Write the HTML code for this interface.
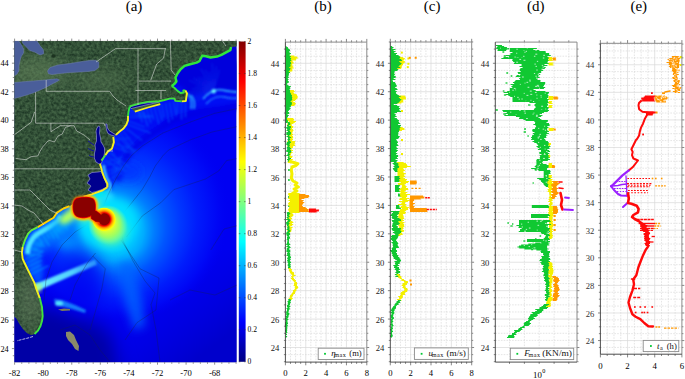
<!DOCTYPE html><html><head><meta charset="utf-8"><style>html,body{margin:0;padding:0;background:#fff;width:685px;height:379px;overflow:hidden}svg{display:block}</style></head><body>
<svg xmlns="http://www.w3.org/2000/svg" width="685" height="379" viewBox="0 0 685 379" font-family="'Liberation Serif', serif">
<rect width="685" height="379" fill="#fff"/>
<text x="134.0" y="10.8" font-size="15" text-anchor="middle" fill="#000">(a)</text>
<text x="323.0" y="10.8" font-size="15" text-anchor="middle" fill="#000">(b)</text>
<text x="432.1" y="10.8" font-size="15" text-anchor="middle" fill="#000">(c)</text>
<text x="535.7" y="10.8" font-size="15" text-anchor="middle" fill="#000">(d)</text>
<text x="638.8" y="10.8" font-size="15" text-anchor="middle" fill="#000">(e)</text>
<defs>
<clipPath id="mc"><rect x="14.3" y="41.0" width="222.29999999999998" height="321.3"/></clipPath>
<filter id="b1" x="-20%" y="-20%" width="140%" height="140%"><feGaussianBlur stdDeviation="1"/></filter>
<filter id="b2" x="-20%" y="-20%" width="140%" height="140%"><feGaussianBlur stdDeviation="2.5"/></filter>
<filter id="b4" x="-30%" y="-30%" width="160%" height="160%"><feGaussianBlur stdDeviation="5"/></filter>
<filter id="b8" x="-30%" y="-30%" width="160%" height="160%"><feGaussianBlur stdDeviation="9"/></filter>
<radialGradient id="glowBig" cx="103" cy="222" r="150" gradientUnits="userSpaceOnUse"><stop offset="0" stop-color="#40e8ff"/><stop offset="0.25" stop-color="#28b8ff"/><stop offset="0.5" stop-color="#1670ff"/><stop offset="0.8" stop-color="#0c3cf4" stop-opacity="0.6"/><stop offset="1" stop-color="#0a24ee" stop-opacity="0"/></radialGradient>
<radialGradient id="glowIn" cx="102" cy="220" r="48" gradientUnits="userSpaceOnUse"><stop offset="0" stop-color="#ffe000"/><stop offset="0.3" stop-color="#d8ff28"/><stop offset="0.55" stop-color="#70ff90"/><stop offset="0.8" stop-color="#30e0ff" stop-opacity="0.7"/><stop offset="1" stop-color="#20c0ff" stop-opacity="0"/></radialGradient>
<linearGradient id="jet" x1="0" y1="1" x2="0" y2="0"><stop offset="0" stop-color="#000080"/><stop offset="0.125" stop-color="#0000ff"/><stop offset="0.375" stop-color="#00ffff"/><stop offset="0.625" stop-color="#ffff00"/><stop offset="0.875" stop-color="#ff0000"/><stop offset="1" stop-color="#800000"/></linearGradient>
</defs>
<g clip-path="url(#mc)">
<rect x="14.3" y="41.0" width="222.29999999999998" height="321.3" fill="#0000f2"/>
<defs><linearGradient id="brg" x1="150" y1="260" x2="215" y2="345" gradientUnits="userSpaceOnUse"><stop offset="0" stop-color="#0000f2" stop-opacity="0"/><stop offset="1" stop-color="#0000cc"/></linearGradient></defs>
<rect x="120" y="250" width="120" height="120" fill="url(#brg)"/>
<defs><radialGradient id="bigg" cx="120" cy="212" r="110" fx="112" fy="238" gradientUnits="userSpaceOnUse"><stop offset="0" stop-color="#00d8ff"/><stop offset="0.15" stop-color="#00cdff"/><stop offset="0.27" stop-color="#00aaff"/><stop offset="0.36" stop-color="#007cff"/><stop offset="0.46" stop-color="#0056ff"/><stop offset="0.58" stop-color="#0038ff"/><stop offset="0.72" stop-color="#001cfc"/><stop offset="0.88" stop-color="#0008f6"/><stop offset="1" stop-color="#0000f2" stop-opacity="0"/></radialGradient></defs>
<rect x="14.3" y="41.0" width="222.29999999999998" height="321.3" fill="url(#bigg)"/>
<g filter="url(#b8)"><polygon points="0,305 45,306 70,314 95,322 112,335 122,380 0,380" fill="#0000a6"/></g>
<g filter="url(#b2)"><polygon points="240,60 240,102.5 219.6,106.5 200,109 186,112 170,117 158,125 147,132 140,137 125.5,150.4 119,163 114.4,178 110,188 100,200 100,160 120,110 170,90" fill="#0010f4"/></g>
<g filter="url(#b2)"><polyline points="243,105.5 222.6,109.5 203,112 189,115 173,120 161,128 150,135 143,140 128.5,153.4 122,166 117.4,181" fill="none" stroke="#0000e4" stroke-width="6"/></g>
<g filter="url(#b4)"><ellipse cx="128" cy="172" rx="14" ry="10" fill="#0028ff" opacity="0.6"/><ellipse cx="68" cy="243" rx="11" ry="7" fill="#0090ff"/></g>
<g filter="url(#b8)"><ellipse cx="82" cy="282" rx="22" ry="30" fill="#0008f0" opacity="0.75"/></g>
<g filter="url(#b4)"><polygon points="118,262 132,262 142,300 145,326 134,330 124,300" fill="#0064ff" opacity="0.8"/></g>
<g filter="url(#b2)"><polygon points="172,78 180,66 205,58 232,47 240,46 240,92 225,90 214,91 200,94 190,96 186,92" fill="#0000dc"/></g>
<g filter="url(#b4)"><polygon points="62,210 74,212 80,222 68,234 55,244 42,252 30,262 25,247 30,233 42,225" fill="#0070ff"/></g>
<g filter="url(#b2)"><polygon points="26,258 40,255 44,270 42,285 36,284 30,275 26,265" fill="#0050ff"/></g>
<g filter="url(#b1)" opacity="0.45"><path d="M128.87,110.12l16.16,3.35M128.29,113.67l24.03,2.86M128,117.26l20.9,-0M127.81,120.82l16.5,6.14M126.55,124.2l23.71,8.82M124.48,127.12l17.5,13.33M122.02,129.7l11.33,14.87M119.15,131.88l16,21M116.51,134.33l15.78,16.87M113.71,136.59l12.07,15.69M113.65,139.96l16.4,-1.86M113.5,143.49l23.13,7.12M112.44,146.93l19.98,6.15M110.46,149.7l10.02,14.47M107.66,151.9l20.8,14.4M105.61,154.86l18.09,12.52M103.48,157.77l15.06,11.08M101.37,160.68l24.3,10.31M100.03,163.99l22.1,-6.73M101.08,167.44l18.94,-5.76M101.92,170.93l16.13,-3.46M103.09,174.34l22.77,-8.18M104.31,177.72l18.63,-9.46M105.94,180.93l15.69,-7.97" stroke="#0070ff" stroke-width="1.4" fill="none" stroke-linecap="round"/></g>
<g filter="url(#b1)" opacity="0.6"><path d="M138.62,110.41l3.56,11.46M142.44,109.23l5.22,16.81M146.26,108.04l4.51,14.52M150.1,106.92l3.41,12.34M153.95,105.85l4.9,17.73M157.81,104.79l4.26,15.42M161.69,103.85l2.37,13.39M165.63,103.16l3.34,18.91M169.57,102.46l2.93,16.54M173.51,101.76l2.51,14.18M177.49,101.5l-0,12M181.49,101.5l-0,17.6M185.49,101.5l-0,15.2" stroke="#0068ff" stroke-width="1.4" fill="none" stroke-linecap="round"/></g>
<g filter="url(#b1)" opacity="0.5"><path d="M60.14,210.67l7.33,11.33M56.78,212.85l10.76,16.62M54.58,216.18l14.36,9.28M51.72,218.82l7.36,12.38M48.28,220.86l10.58,17.79M44.85,222.91l9.26,15.43M41.42,224.97l7.87,13.12M37.99,227.03l11.11,18.52M34.41,228.82l8.34,16.96M30.95,230.75l11.46,11.46M28.15,233.61l12.11,5.96M26.38,237.19l17.77,8.74M24.75,240.84l16.22,5.41M23.49,244.63l13.66,4.55M22.48,248.49l20.48,2.98M21.91,252.45l17.81,2.59M22.4,256.42l15.18,-1.93M23.34,260.26l19.79,-8.66M25.02,263.89l17,-8.26M26.77,267.49l14.57,-7.08M28.53,271.08l12.11,-5.96M30.29,274.67l17.76,-8.75" stroke="#00b0ff" stroke-width="1.4" fill="none" stroke-linecap="round"/></g>
<g filter="url(#b1)"><polyline points="61,216 57.5,221.5 49.5,227 41.5,231.5 36,235 33,238 30,243 28,248.5 27.5,254" fill="none" stroke="#48e0ff" stroke-width="5"/></g>
<g filter="url(#b4)"><ellipse cx="63" cy="224" rx="16" ry="6" transform="rotate(-38 63 224)" fill="#00a8ff"/></g>
<g filter="url(#b2)"><ellipse cx="68" cy="217" rx="10" ry="5" transform="rotate(-35 68 217)" fill="#b0ff60"/><ellipse cx="96" cy="224" rx="8" ry="4" fill="#e8f830"/></g>
<g filter="url(#b2)"><ellipse cx="103" cy="200" rx="11" ry="7" transform="rotate(-25 103 200)" fill="#38d4ff"/></g>
<g filter="url(#b1)"><polyline points="103.5,165 104.5,171 106.5,177.7 110,184 110.5,189 106,194" fill="none" stroke="#38b8ff" stroke-width="3"/></g>
<g filter="url(#b1)"><polygon points="54,299 62,300 75,305 86,310 85,313 72,309 60,306 55,303" fill="#1a90ff" opacity="0.85"/><ellipse cx="59" cy="303.5" rx="4" ry="2.5" fill="#50e0ff"/></g>
<g opacity="0.5" filter="url(#b1)"><path d="M213.7,91.2l-19.92,11.5M213.7,91.2l-18.67,7.17M213.7,91.2l-27.39,5.82M213.7,91.2l-24.97,1.31M213.7,91.2l-21.88,-2.3M213.7,91.2l-18.35,-4.92M213.7,91.2l-24.67,-10.98M213.7,91.2l-20.13,-13.07M213.7,91.2l-15.61,-14.05M213.7,91.2l-11.33,-13.99M213.7,91.2l-13,-22.52M213.7,91.2l-8.24,-21.47M213.7,91.2l-4.16,-19.56M213.7,91.2l-1.47,-27.96M213.7,91.2l2.61,-24.86M213.7,91.2l5.69,-21.25" stroke="#0a30f0" stroke-width="1.3" fill="none"/></g>
<g filter="url(#b1)"><path d="M203,99 Q212,88 222,90 Q232,92 238,92" stroke="#30b8ff" stroke-width="1.6" fill="none"/><path d="M206,104 Q214,95 224,97 Q232,99 238,98" stroke="#2080ff" stroke-width="1.4" fill="none"/><circle cx="213.7" cy="91.2" r="2.2" fill="#60f0ff"/><path d="M187,93 q6,6 4,16 M191,95 q5,6 3,14" stroke="#30d0ff" stroke-width="1.6" fill="none" opacity="0.8"/></g>
<defs><linearGradient id="beam" x1="35" y1="288" x2="98" y2="261" gradientUnits="userSpaceOnUse"><stop offset="0" stop-color="#70f0ff"/><stop offset="0.6" stop-color="#50d0ff"/><stop offset="1" stop-color="#40c0ff" stop-opacity="0.6"/></linearGradient></defs>
<g filter="url(#b1)"><polygon points="34,284.5 95,259.5 97,264.5 36,291.5" fill="url(#beam)"/></g>
<g filter="url(#b2)"><circle cx="37" cy="288" r="4" fill="#c0ff60"/></g>
<polyline points="96,228 104,205 108,194.9 115.8,179 123.7,165.8 131.7,155.3 142.3,146 162.9,133 190.4,122 214.4,113.4 240,108" fill="none" stroke="#14204a" stroke-width="0.6" opacity="0.55"/>
<polyline points="121,216 131.7,202.8 142.2,189.6 150,176.4 155.4,165.8 163.3,155.3 168.6,150 190,140 212,132 240,126" fill="none" stroke="#14204a" stroke-width="0.6" opacity="0.55"/>
<polyline points="126.4,237 142.2,216 160.7,202.8 173.9,189.6 189.7,184.3 205.5,179 218.7,171 226.6,160.6 240,158" fill="none" stroke="#14204a" stroke-width="0.6" opacity="0.55"/>
<polyline points="210.8,250 224,229 240,225" fill="none" stroke="#14204a" stroke-width="0.6" opacity="0.55"/>
<polyline points="121,229.5 123,241 133,261 145,281 155,293 151,304.6 156,330 160,362" fill="none" stroke="#14204a" stroke-width="0.6" opacity="0.55"/>
<polyline points="44,300 46,280 52,262 62,245 75,232 88,224" fill="none" stroke="#14204a" stroke-width="0.6" opacity="0.55"/>
<polyline points="95.6,253 88,262 83.7,269 75,285 70,300" fill="none" stroke="#14204a" stroke-width="0.6" opacity="0.55"/>
<polyline points="92.7,256 105.3,268.8 102,287.8 95.8,310 90,330" fill="none" stroke="#14204a" stroke-width="0.6" opacity="0.55"/>
<polyline points="121,240 140,268.8 159,278 156,310 137,322.6 125,340" fill="none" stroke="#14204a" stroke-width="0.6" opacity="0.55"/>
<polyline points="60,330 75,325 90,335 100,350 110,362" fill="none" stroke="#14204a" stroke-width="0.6" opacity="0.55"/>
<polyline points="170,300 190,290 215,295 237,285" fill="none" stroke="#14204a" stroke-width="0.6" opacity="0.55"/>
<g filter="url(#b4)"><ellipse cx="108" cy="222" rx="30" ry="25" fill="#00e0ff"/></g>
<g filter="url(#b4)"><ellipse cx="112" cy="232" rx="13" ry="11" transform="rotate(-20 112 232)" fill="#90ff70"/><ellipse cx="84" cy="207" rx="14" ry="12" fill="#c8ff50"/></g>
<g filter="url(#b2)"><ellipse cx="100" cy="194" rx="9" ry="4" transform="rotate(-20 100 194)" fill="#00f0f0"/></g>
<g filter="url(#b1)"><path d="M77,198.5 C84,197 90,197 93,199 C95,201 95.3,204 95.2,207 L95,211 C94,214 91,216 87,217 C83,217.8 79,217.6 76.5,216 C74,214 73.2,211 73.2,207 C73.2,203 74,200 77,198.5 Z" fill="#ffe800" stroke="#f4f000" stroke-width="5"/><path d="M91,211.5 L96,211 L100.5,214.5 L101,222 L96,221.5 L91.5,218.5 Z" fill="#ffe800" stroke="#ffe800" stroke-width="5"/></g>
<defs><radialGradient id="b2o" cx="108" cy="225" r="20" fx="104" fy="219.3" gradientUnits="userSpaceOnUse"><stop offset="0" stop-color="#ffff00"/><stop offset="0.45" stop-color="#e0ff30"/><stop offset="0.7" stop-color="#a0ff60" stop-opacity="0.8"/><stop offset="0.88" stop-color="#70ffa0" stop-opacity="0.4"/><stop offset="1" stop-color="#40ffc0" stop-opacity="0"/></radialGradient><radialGradient id="b2i" cx="104" cy="219.3" r="12" gradientUnits="userSpaceOnUse"><stop offset="0" stop-color="#800000"/><stop offset="0.46" stop-color="#8c0000"/><stop offset="0.55" stop-color="#f00000"/><stop offset="0.68" stop-color="#ff8000"/><stop offset="0.79" stop-color="#ffc800"/><stop offset="0.92" stop-color="#ffff00"/><stop offset="1" stop-color="#ffff00" stop-opacity="0"/></radialGradient></defs>
<circle cx="108" cy="225" r="20" fill="url(#b2o)"/>
<circle cx="104" cy="219.3" r="12" fill="url(#b2i)"/>
<polygon points="240,36 240,46 231,47 230.3,50.2 221.5,54.8 217,56.6 210.5,57.5 205.9,56.2 202.2,55.7 199.4,61.2 196.6,62.6 189.2,64.5 184.6,65.9 180.6,69.2 177.5,73.5 175.4,77.7 176.4,81.4 174.8,83.5 171.7,86.1 174.3,87.7 177.5,90.9 180.6,93 183.8,92.5 183.3,90.4 185.4,90.4 187,93.5 186.4,96.7 185.9,101 181.7,101.4 175.4,100.9 174.3,98.5 169.7,98.6 163.4,100.3 159.1,101.3 147.5,101.9 140.1,103.4 131.7,105.6 129.6,106.6 128.5,111.9 128,116.1 128,120.3 126.4,124.6 123.2,128.8 119,132 115.9,134.9 113.3,136.9 113.9,142.2 111.9,148.7 108,151.4 105.3,155.3 101.4,160.6 100,163.9 101.4,168.5 102,171.3 104.3,177.7 107.5,184 107.5,187.2 102.7,190.3 96.4,192.7 91.7,194.3 83.7,196.7 75.8,201.4 69.5,206.2 63.5,208.5 56.7,212.9 53.6,217.7 45.7,222.4 37.7,227.2 31.4,230.3 28.2,233.5 25.1,239.8 22.7,247 21.9,252.5 22.7,258.8 24.1,262 27.5,269 30.8,275.7 34.2,282.4 36.4,289.1 39.8,298.1 42,307.1 42.7,316 42,321 40.5,326 38,330.5 34.5,334 31,335 27,333 23,329 19.5,324 16.2,318 10,314 10,36" fill="#34563c"/>
<defs><filter id="tex" x="0" y="0" width="100%" height="100%" color-interpolation-filters="sRGB"><feTurbulence type="fractalNoise" baseFrequency="0.35" numOctaves="2" seed="7" result="n"/><feColorMatrix in="n" type="matrix" values="0.35 0 0 0 0.02  0.42 0 0 0 0.1  0.3 0 0 0 0.06  0 0 0 0 0.75" result="m"/><feComposite in="m" in2="SourceGraphic" operator="in"/></filter></defs>
<polygon points="240,36 240,46 231,47 230.3,50.2 221.5,54.8 217,56.6 210.5,57.5 205.9,56.2 202.2,55.7 199.4,61.2 196.6,62.6 189.2,64.5 184.6,65.9 180.6,69.2 177.5,73.5 175.4,77.7 176.4,81.4 174.8,83.5 171.7,86.1 174.3,87.7 177.5,90.9 180.6,93 183.8,92.5 183.3,90.4 185.4,90.4 187,93.5 186.4,96.7 185.9,101 181.7,101.4 175.4,100.9 174.3,98.5 169.7,98.6 163.4,100.3 159.1,101.3 147.5,101.9 140.1,103.4 131.7,105.6 129.6,106.6 128.5,111.9 128,116.1 128,120.3 126.4,124.6 123.2,128.8 119,132 115.9,134.9 113.3,136.9 113.9,142.2 111.9,148.7 108,151.4 105.3,155.3 101.4,160.6 100,163.9 101.4,168.5 102,171.3 104.3,177.7 107.5,184 107.5,187.2 102.7,190.3 96.4,192.7 91.7,194.3 83.7,196.7 75.8,201.4 69.5,206.2 63.5,208.5 56.7,212.9 53.6,217.7 45.7,222.4 37.7,227.2 31.4,230.3 28.2,233.5 25.1,239.8 22.7,247 21.9,252.5 22.7,258.8 24.1,262 27.5,269 30.8,275.7 34.2,282.4 36.4,289.1 39.8,298.1 42,307.1 42.7,316 42,321 40.5,326 38,330.5 34.5,334 31,335 27,333 23,329 19.5,324 16.2,318 10,314 10,36" fill="#000" filter="url(#tex)"/>
<defs><clipPath id="landclip"><polygon points="240,36 240,46 231,47 230.3,50.2 221.5,54.8 217,56.6 210.5,57.5 205.9,56.2 202.2,55.7 199.4,61.2 196.6,62.6 189.2,64.5 184.6,65.9 180.6,69.2 177.5,73.5 175.4,77.7 176.4,81.4 174.8,83.5 171.7,86.1 174.3,87.7 177.5,90.9 180.6,93 183.8,92.5 183.3,90.4 185.4,90.4 187,93.5 186.4,96.7 185.9,101 181.7,101.4 175.4,100.9 174.3,98.5 169.7,98.6 163.4,100.3 159.1,101.3 147.5,101.9 140.1,103.4 131.7,105.6 129.6,106.6 128.5,111.9 128,116.1 128,120.3 126.4,124.6 123.2,128.8 119,132 115.9,134.9 113.3,136.9 113.9,142.2 111.9,148.7 108,151.4 105.3,155.3 101.4,160.6 100,163.9 101.4,168.5 102,171.3 104.3,177.7 107.5,184 107.5,187.2 102.7,190.3 96.4,192.7 91.7,194.3 83.7,196.7 75.8,201.4 69.5,206.2 63.5,208.5 56.7,212.9 53.6,217.7 45.7,222.4 37.7,227.2 31.4,230.3 28.2,233.5 25.1,239.8 22.7,247 21.9,252.5 22.7,258.8 24.1,262 27.5,269 30.8,275.7 34.2,282.4 36.4,289.1 39.8,298.1 42,307.1 42.7,316 42,321 40.5,326 38,330.5 34.5,334 31,335 27,333 23,329 19.5,324 16.2,318 10,314 10,36"/></clipPath></defs>
<g clip-path="url(#landclip)"><g filter="url(#b8)" opacity="0.55"><ellipse cx="38" cy="72" rx="30" ry="16" fill="#6a8a60"/><ellipse cx="100" cy="80" rx="30" ry="10" fill="#5a7a55"/><ellipse cx="30" cy="300" rx="12" ry="30" fill="#6a8065"/></g></g>
<polygon points="131,108.6 145,105 159.5,101.9 160.3,104.1 148,107.5 134.8,111.6" fill="#3a5a3e"/>
<polygon points="10,36 18.8,36 18.8,41 21.5,45 23.5,49 23.5,53 21.1,56.8 20,60.8 19.1,64.8 18.8,71 17,74 14,76 10,76" fill="#4a5e9a" stroke="#7080b0" stroke-width="0.5"/>
<polygon points="21.5,36 37,36 37,41 40.1,45.8 43.3,49.7 43.7,53.7 40.1,54.9 34.6,52.1 29.8,50.5 25.9,46.5 22.5,43" fill="#4a5e9a" stroke="#7080b0" stroke-width="0.5"/>
<polygon points="47.5,71 50,67.5 58,65 70,63.5 82,61.5 90,60.4 96,60.2 99,62.5 98.5,67.5 95,70.5 88,71.5 80,72 70,72.5 60,73.5 52,74.5 48.5,73.8" fill="#4a5e9a" stroke="#7080b0" stroke-width="0.5"/>
<polygon points="10,83 20,82 33,81 45,80 52,79.3 57,78.8 59.5,80 57,81.5 52,84 45.7,87.5 39,90.5 33,93 26.7,95 20,97 14,98.5 10,98.5" fill="#4a5e9a" stroke="#7080b0" stroke-width="0.5"/>
<ellipse cx="53.6" cy="56" rx="2.2" ry="1.8" fill="#1c3320"/>
<polygon points="98.5,126 100,127 99.5,133 100.5,138 101,142 103,145 104.5,148 104.5,153 103.5,158 102,161.5 101.3,163.7 98.8,163.7 96,162 94.3,158 94.5,153 95.5,149 95,145 96.5,141 96.5,136 96,131 97,128" fill="#00008e" stroke="#a0a0e0" stroke-width="0.6"/>
<polygon points="105.7,123.8 107,124 107.5,128 109,130.5 112,132.5 115.8,134.8 114.5,136 111,135 108,133.5 106.5,130 106,126" fill="#00008e" stroke="#a0a0e0" stroke-width="0.6"/>
<polygon points="88,175 92,172.5 98,172 101,171.5 104,177.7 106.5,184 106.5,187 102,189.5 96,191.5 92,192.5 88,190 91,186 87,183 90,179" fill="#00008e" stroke="#a0a0e0" stroke-width="0.6"/>
<polygon points="130,106.8 140,104 150,102.6 159,101.6 159.4,102 145,105.2 131,108.6" fill="#00008e" stroke="#a0a0e0" stroke-width="0.6"/>
<polyline points="94,145 91,143 88,141" fill="none" stroke="#10109a" stroke-width="1"/>
<polyline points="94,151 91,150 88,148.5" fill="none" stroke="#10109a" stroke-width="1"/>
<polyline points="94,157 91,156.5 89,155" fill="none" stroke="#10109a" stroke-width="1"/>
<polygon points="66,332 70,331.5 74,335 76,340 79,346 78.5,351 75,349 72,344 68,340 66,336" fill="#8a8a6a"/>
<polygon points="58,309.5 64,308.6 70,309 70,310.5 62,311" fill="#7a7a5a"/>
<polyline points="231,47 230.3,50.2 221.5,54.8 217,56.6 210.5,57.5 205.9,56.2 202.2,55.7 199.4,61.2 196.6,62.6 189.2,64.5 184.6,65.9 180.6,69.2 177.5,73.5 175.4,77.7 176.4,81.4 174.8,83.5 171.7,86.1" fill="none" stroke="#30e43c" stroke-width="2.5" stroke-linejoin="round"/>
<polyline points="171.7,86.1 174.3,87.7 177.5,90.9 180.6,93 183.8,92.5 183.3,90.4 185.4,90.4" fill="none" stroke="#34e040" stroke-width="1.9" stroke-linejoin="round"/>
<polyline points="185.4,90.4 187,93.5 186.4,96.7 185.9,101 181.7,101.4" fill="none" stroke="#f0f020" stroke-width="1.9" stroke-linejoin="round"/>
<polyline points="181.7,101.4 175.4,100.9 174.3,98.5 169.7,98.6 163.4,100.3 159.1,101.3 147.5,101.9 140.1,103.4 131.7,105.6 129.6,106.6" fill="none" stroke="#40e040" stroke-width="1.9" stroke-linejoin="round"/>
<polyline points="129.6,106.6 128.5,111.9 128,116.1" fill="none" stroke="#30e040" stroke-width="1.9" stroke-linejoin="round"/>
<polyline points="128,116.1 128,120.3 126.4,124.6 123.2,128.8 119,132 115.9,134.9" fill="none" stroke="#f4f020" stroke-width="1.9" stroke-linejoin="round"/>
<polyline points="113.3,136.9 113.9,142.2 111.9,148.7 108,151.4 105.3,155.3" fill="none" stroke="#f4f020" stroke-width="1.9" stroke-linejoin="round"/>
<polyline points="105.3,155.3 101.4,160.6" fill="none" stroke="#50e040" stroke-width="1.9" stroke-linejoin="round"/>
<polyline points="100,163.9 101.4,168.5 102,171.3 104.3,177.7 107.5,184 107.5,187.2" fill="none" stroke="#f4f020" stroke-width="1.9" stroke-linejoin="round"/>
<polyline points="107.5,187.2 102.7,190.3 96.4,192.7 91.7,194.3 83.7,196.7" fill="none" stroke="#f8e820" stroke-width="1.9" stroke-linejoin="round"/>
<polyline points="69.5,206.2 63.5,208.5 56.7,212.9 53.6,217.7 45.7,222.4 37.7,227.2" fill="none" stroke="#ffd000" stroke-width="1.9" stroke-linejoin="round"/>
<polyline points="37.7,227.2 31.4,230.3 28.2,233.5 25.1,239.8 22.7,247" fill="none" stroke="#60e840" stroke-width="1.9" stroke-linejoin="round"/>
<polyline points="22.7,247 21.9,252.5 22.7,258.8 24.1,262 27.5,269 30.8,275.7 34.2,282.4 36.4,289.1 39.8,298.1" fill="none" stroke="#f0f020" stroke-width="1.9" stroke-linejoin="round"/>
<polyline points="39.8,298.1 42,307.1 42.7,316 42,321 40.5,326 38,330.5 34.5,334" fill="none" stroke="#40e040" stroke-width="1.9" stroke-linejoin="round"/>
<polyline points="134.8,111.6 148,107.5 160.3,104.1" fill="none" stroke="#f4f020" stroke-width="1.8"/>
<polyline points="33,336.5 28,338 22,339.5 17,340.8" fill="none" stroke="#c8c8e8" stroke-width="0.9" stroke-dasharray="3,1"/>
<g filter="url(#b1)"><path d="M77,198.5 C84,197 90,197 93,199 C95,201 95.3,204 95.2,207 L95,211 C94,214 91,216 87,217 C83,217.8 79,217.6 76.5,216 C74,214 73.2,211 73.2,207 C73.2,203 74,200 77,198.5 Z" fill="#ff8000" stroke="#ff8c00" stroke-width="3.4"/><path d="M91,211.5 L96,211 L100.5,214.5 L101,222 L96,221.5 L91.5,218.5 Z" fill="#ff6000" stroke="#ff7000" stroke-width="3"/></g>
<path d="M77,198.5 C84,197 90,197 93,199 C95,201 95.3,204 95.2,207 L95,211 C94,214 91,216 87,217 C83,217.8 79,217.6 76.5,216 C74,214 73.2,211 73.2,207 C73.2,203 74,200 77,198.5 Z" fill="#e00000" stroke="#f00000" stroke-width="1.4"/><path d="M91,211.5 L96,211 L100.5,214.5 L101,222 L96,221.5 L91.5,218.5 Z" fill="#d00000" stroke="#e00000" stroke-width="1.2"/>
<path d="M77,198.5 C84,197 90,197 93,199 C95,201 95.3,204 95.2,207 L95,211 C94,214 91,216 87,217 C83,217.8 79,217.6 76.5,216 C74,214 73.2,211 73.2,207 C73.2,203 74,200 77,198.5 Z" fill="#8a0000"/><path d="M91,211.5 L96,211 L100.5,214.5 L101,222 L96,221.5 L91.5,218.5 Z" fill="#8e0000"/><circle cx="104" cy="219.3" r="5.6" fill="#8c0000"/>
<polyline points="35.6,92 35.6,123.2 104,123.2" fill="none" stroke="#d8dcd8" stroke-width="0.7" opacity="0.85"/>
<polyline points="46.2,80 46.2,91.3 109.7,91.3 113,96 117,100 126,106" fill="none" stroke="#d8dcd8" stroke-width="0.7" opacity="0.85"/>
<polyline points="96,62 115.6,48.6 166,48.6" fill="none" stroke="#d8dcd8" stroke-width="0.7" opacity="0.85"/>
<polyline points="138,48.6 138,105" fill="none" stroke="#d8dcd8" stroke-width="0.7" opacity="0.85"/>
<polyline points="138.8,81.1 171.2,81.1" fill="none" stroke="#d8dcd8" stroke-width="0.7" opacity="0.85"/>
<polyline points="135.4,90.5 166,90.5" fill="none" stroke="#d8dcd8" stroke-width="0.7" opacity="0.85"/>
<polyline points="161,90.5 161,99" fill="none" stroke="#d8dcd8" stroke-width="0.7" opacity="0.85"/>
<polyline points="165.3,48.7 163.6,58.1 156.7,64 150.7,80.3" fill="none" stroke="#d8dcd8" stroke-width="0.7" opacity="0.85"/>
<polyline points="170.4,41 171.2,70 175,75" fill="none" stroke="#d8dcd8" stroke-width="0.7" opacity="0.85"/>
<polyline points="222.5,41 226,46" fill="none" stroke="#d8dcd8" stroke-width="0.7" opacity="0.85"/>
<polyline points="14,168.8 100,168.8" fill="none" stroke="#d8dcd8" stroke-width="0.7" opacity="0.85"/>
<polyline points="14,190 30,190 50,210 58,214" fill="none" stroke="#d8dcd8" stroke-width="0.7" opacity="0.85"/>
<polyline points="14,250 22,252" fill="none" stroke="#d8dcd8" stroke-width="0.7" opacity="0.85"/>
<polyline points="34.6,112 31.2,122.3 24.3,127.4 17.4,132.6 14,135" fill="none" stroke="#d8dcd8" stroke-width="0.7" opacity="0.85"/>
<polyline points="15.7,158.3 20,159 26,159.7 31.2,156.6 37.8,156 39.6,152 42.6,147 47.9,141 49.7,140.5 54.4,142 58,136 62.2,134 65.5,127.4 70.6,125.7" fill="none" stroke="#d8dcd8" stroke-width="0.7" opacity="0.85"/>
<polyline points="50.9,123.2 50.9,131.7 60.3,125.7 65.5,125.7 74,125.7 76.6,130.9 84.3,135.2 90,140" fill="none" stroke="#d8dcd8" stroke-width="0.7" opacity="0.85"/>
<polyline points="104,123.2 105,126" fill="none" stroke="#d8dcd8" stroke-width="0.7" opacity="0.85"/>
<polyline points="107,151 113,151" fill="none" stroke="#d8dcd8" stroke-width="0.7" opacity="0.85"/>
<polyline points="14,205 22,206 28,210 34,213 40,220 44,225" fill="none" stroke="#d8dcd8" stroke-width="0.7" opacity="0.85"/>
</g>
<rect x="14.3" y="41.0" width="222.29999999999998" height="321.3" fill="none" stroke="#777" stroke-width="0.3" opacity="0.6"/>
<path d="M14.6,41.0v-2.4M14.6,362.3v2.4M21.74,41.0v-1.5M21.74,362.3v1.5M28.89,41.0v-1.5M28.89,362.3v1.5M36.03,41.0v-1.5M36.03,362.3v1.5M43.18,41.0v-2.4M43.18,362.3v2.4M50.32,41.0v-1.5M50.32,362.3v1.5M57.47,41.0v-1.5M57.47,362.3v1.5M64.61,41.0v-1.5M64.61,362.3v1.5M71.76,41.0v-2.4M71.76,362.3v2.4M78.9,41.0v-1.5M78.9,362.3v1.5M86.05,41.0v-1.5M86.05,362.3v1.5M93.19,41.0v-1.5M93.19,362.3v1.5M100.34,41.0v-2.4M100.34,362.3v2.4M107.48,41.0v-1.5M107.48,362.3v1.5M114.63,41.0v-1.5M114.63,362.3v1.5M121.77,41.0v-1.5M121.77,362.3v1.5M128.92,41.0v-2.4M128.92,362.3v2.4M136.06,41.0v-1.5M136.06,362.3v1.5M143.21,41.0v-1.5M143.21,362.3v1.5M150.35,41.0v-1.5M150.35,362.3v1.5M157.5,41.0v-2.4M157.5,362.3v2.4M164.64,41.0v-1.5M164.64,362.3v1.5M171.79,41.0v-1.5M171.79,362.3v1.5M178.93,41.0v-1.5M178.93,362.3v1.5M186.08,41.0v-2.4M186.08,362.3v2.4M193.22,41.0v-1.5M193.22,362.3v1.5M200.37,41.0v-1.5M200.37,362.3v1.5M207.51,41.0v-1.5M207.51,362.3v1.5M214.66,41.0v-2.4M214.66,362.3v2.4M221.8,41.0v-1.5M221.8,362.3v1.5M228.95,41.0v-1.5M228.95,362.3v1.5M236.09,41.0v-1.5M236.09,362.3v1.5M14.3,355.73h-1.5M14.3,348.6h-2.4M14.3,341.46h-1.5M14.3,334.33h-1.5M14.3,327.19h-1.5M14.3,320.06h-2.4M14.3,312.93h-1.5M14.3,305.79h-1.5M14.3,298.65h-1.5M14.3,291.52h-2.4M14.3,284.38h-1.5M14.3,277.25h-1.5M14.3,270.12h-1.5M14.3,262.98h-2.4M14.3,255.84h-1.5M14.3,248.71h-1.5M14.3,241.57h-1.5M14.3,234.44h-2.4M14.3,227.31h-1.5M14.3,220.17h-1.5M14.3,213.04h-1.5M14.3,205.9h-2.4M14.3,198.76h-1.5M14.3,191.63h-1.5M14.3,184.5h-1.5M14.3,177.36h-2.4M14.3,170.22h-1.5M14.3,163.09h-1.5M14.3,155.95h-1.5M14.3,148.82h-2.4M14.3,141.69h-1.5M14.3,134.55h-1.5M14.3,127.42h-1.5M14.3,120.28h-2.4M14.3,113.15h-1.5M14.3,106.01h-1.5M14.3,98.88h-1.5M14.3,91.74h-2.4M14.3,84.61h-1.5M14.3,77.47h-1.5M14.3,70.34h-1.5M14.3,63.2h-2.4M14.3,56.07h-1.5M14.3,48.93h-1.5M14.3,41.8h-1.5" stroke="#444" stroke-width="0.6" fill="none"/>
<text x="8.700000000000001" y="351.5" font-size="8.3" text-anchor="end" fill="#000">24</text>
<text x="8.700000000000001" y="322.96" font-size="8.3" text-anchor="end" fill="#000">26</text>
<text x="8.700000000000001" y="294.42" font-size="8.3" text-anchor="end" fill="#000">28</text>
<text x="8.700000000000001" y="265.88" font-size="8.3" text-anchor="end" fill="#000">30</text>
<text x="8.700000000000001" y="237.34" font-size="8.3" text-anchor="end" fill="#000">32</text>
<text x="8.700000000000001" y="208.8" font-size="8.3" text-anchor="end" fill="#000">34</text>
<text x="8.700000000000001" y="180.26" font-size="8.3" text-anchor="end" fill="#000">36</text>
<text x="8.700000000000001" y="151.72" font-size="8.3" text-anchor="end" fill="#000">38</text>
<text x="8.700000000000001" y="123.18" font-size="8.3" text-anchor="end" fill="#000">40</text>
<text x="8.700000000000001" y="94.64" font-size="8.3" text-anchor="end" fill="#000">42</text>
<text x="8.700000000000001" y="66.1" font-size="8.3" text-anchor="end" fill="#000">44</text>
<text x="14.6" y="376.4" font-size="8.6" text-anchor="middle" fill="#000">-82</text>
<text x="43.18" y="376.4" font-size="8.6" text-anchor="middle" fill="#000">-80</text>
<text x="71.76" y="376.4" font-size="8.6" text-anchor="middle" fill="#000">-78</text>
<text x="100.34" y="376.4" font-size="8.6" text-anchor="middle" fill="#000">-76</text>
<text x="128.92" y="376.4" font-size="8.6" text-anchor="middle" fill="#000">-74</text>
<text x="157.5" y="376.4" font-size="8.6" text-anchor="middle" fill="#000">-72</text>
<text x="186.08" y="376.4" font-size="8.6" text-anchor="middle" fill="#000">-70</text>
<text x="214.66" y="376.4" font-size="8.6" text-anchor="middle" fill="#000">-68</text>
<rect x="238.8" y="41.5" width="6.8" height="320.3" fill="url(#jet)"/>
<path d="M238.8,41.5h1.6M245.6,41.5h-1.6M238.8,73.53h1.6M245.6,73.53h-1.6M238.8,105.56h1.6M245.6,105.56h-1.6M238.8,137.59h1.6M245.6,137.59h-1.6M238.8,169.62h1.6M245.6,169.62h-1.6M238.8,201.65h1.6M245.6,201.65h-1.6M238.8,233.68h1.6M245.6,233.68h-1.6M238.8,265.71h1.6M245.6,265.71h-1.6M238.8,297.74h1.6M245.6,297.74h-1.6M238.8,329.77h1.6M245.6,329.77h-1.6M238.8,361.8h1.6M245.6,361.8h-1.6" stroke="#333" stroke-width="0.5"/>
<text x="247.5" y="44.1" font-size="7.6" fill="#000">2</text>
<text x="247.5" y="76.13" font-size="7.6" fill="#000">1.8</text>
<text x="247.5" y="108.16" font-size="7.6" fill="#000">1.6</text>
<text x="247.5" y="140.19" font-size="7.6" fill="#000">1.4</text>
<text x="247.5" y="172.22" font-size="7.6" fill="#000">1.2</text>
<text x="247.5" y="204.25" font-size="7.6" fill="#000">1</text>
<text x="247.5" y="236.28" font-size="7.6" fill="#000">0.8</text>
<text x="247.5" y="268.31" font-size="7.6" fill="#000">0.6</text>
<text x="247.5" y="300.34" font-size="7.6" fill="#000">0.4</text>
<text x="247.5" y="332.37" font-size="7.6" fill="#000">0.2</text>
<text x="247.5" y="364.4" font-size="7.6" fill="#000">0</text>
<path d="M290.49,42.1V362.1M295.57,42.1V362.1M300.66,42.1V362.1M310.84,42.1V362.1M315.93,42.1V362.1M321.01,42.1V362.1M331.19,42.1V362.1M336.27,42.1V362.1M341.36,42.1V362.1M351.54,42.1V362.1M356.62,42.1V362.1M361.71,42.1V362.1M285.4,354.61H366.8M285.4,340.4H366.8M285.4,333.29H366.8M285.4,326.19H366.8M285.4,311.98H366.8M285.4,304.87H366.8M285.4,297.76H366.8M285.4,283.56H366.8M285.4,276.45H366.8M285.4,269.35H366.8M285.4,255.13H366.8M285.4,248.03H366.8M285.4,240.93H366.8M285.4,226.72H366.8M285.4,219.61H366.8M285.4,212.5H366.8M285.4,198.3H366.8M285.4,191.19H366.8M285.4,184.09H366.8M285.4,169.88H366.8M285.4,162.77H366.8M285.4,155.67H366.8M285.4,141.45H366.8M285.4,134.35H366.8M285.4,127.25H366.8M285.4,113.03H366.8M285.4,105.93H366.8M285.4,98.83H366.8M285.4,84.61H366.8M285.4,77.51H366.8M285.4,70.41H366.8M285.4,56.19H366.8M285.4,49.09H366.8" stroke="#d4d4d4" stroke-width="0.6" stroke-dasharray="1.6,1.2" fill="none"/>
<path d="M305.75,42.1V362.1M326.1,42.1V362.1M346.45,42.1V362.1M285.4,347.5H366.8M285.4,319.08H366.8M285.4,290.66H366.8M285.4,262.24H366.8M285.4,233.82H366.8M285.4,205.4H366.8M285.4,176.98H366.8M285.4,148.56H366.8M285.4,120.14H366.8M285.4,91.72H366.8M285.4,63.3H366.8" stroke="#d8d8d8" stroke-width="0.7" fill="none"/>
<polygon points="294.27,55.5 294.27,56.5 297.04,56.5 297.04,57.5 298.23,57.5 298.23,58.5 296.36,58.5 296.36,59.5 295.99,59.5 295.99,60.5 292.4,60.5 292.4,61.5 293.2,61.5 293.2,62.5 293.88,62.5 293.88,63.5 292.52,63.5 292.52,64.5 292.06,64.5 292.06,65.5 293.34,65.5 293.34,66.5 292.62,66.5 292.62,67.5 293.77,67.5 293.77,68.5 292.17,68.5 292.17,69.5 292.39,69.5 292.39,70.5 292.28,70.5 292.28,71.5 290.21,71.5 290.21,72.5 285.5,72.5 285.5,71.5 285.5,71.5 285.5,70.5 285.5,70.5 285.5,69.5 285.5,69.5 285.5,68.5 285.5,68.5 285.5,67.5 285.5,67.5 285.5,66.5 285.5,66.5 285.5,65.5 285.5,65.5 285.5,64.5 285.5,64.5 285.5,63.5 285.5,63.5 285.5,62.5 285.5,62.5 285.5,61.5 285.5,61.5 285.5,60.5 285.5,60.5 285.5,59.5 285.5,59.5 285.5,58.5 285.5,58.5 285.5,57.5 285.5,57.5 285.5,56.5 285.5,56.5 285.5,55.5" fill="#f4f000"/>
<polygon points="293.91,90 293.91,91 294.65,91 294.65,92 293.61,92 293.61,93 294.42,93 294.42,94 296.67,94 296.67,95 297.14,95 297.14,96 297.67,96 297.67,97 297.62,97 297.62,98 297.21,98 297.21,99 296.21,99 296.21,100 295.16,100 295.16,101 293.32,101 293.32,102 294.86,102 294.86,103 295.79,103 295.79,104 295.2,104 295.2,105 294.49,105 294.49,106 285.5,106 285.5,105 285.5,105 285.5,104 285.5,104 285.5,103 285.5,103 285.5,102 285.5,102 285.5,101 285.5,101 285.5,100 285.5,100 285.5,99 285.5,99 285.5,98 285.5,98 285.5,97 285.5,97 285.5,96 285.5,96 285.5,95 285.5,95 285.5,94 285.5,94 285.5,93 285.5,93 285.5,92 285.5,92 285.5,91 285.5,91 285.5,90" fill="#f4f000"/>
<polygon points="286.53,46 286.53,47 287.91,47 287.91,48 288.43,48 288.43,49 289.69,49 289.69,50 290.06,50 290.06,51 289.38,51 289.38,52 289.62,52 289.62,53 290.98,53 290.98,54 289.82,54 289.82,55 289.65,55 289.65,56 290.89,56 290.89,57 290.2,57 290.2,58 291.11,58 291.11,59 290.71,59 290.71,60 291.25,60 291.25,61 290.2,61 290.2,62 290.91,62 290.91,63 291.16,63 291.16,64 290.38,64 290.38,65 290.6,65 290.6,66 290.31,66 290.31,67 289.22,67 289.22,68 290.46,68 290.46,69 290.16,69 290.16,70 289.64,70 289.64,71 288.82,71 288.82,72 289.99,72 289.99,73 288.95,73 288.95,74 288.89,74 288.89,75 288.68,75 288.68,76 288.39,76 288.39,77 288.76,77 288.76,78 287.81,78 287.81,79 288.54,79 288.54,80 287.9,80 287.9,81 288.78,81 288.78,82 288.68,82 288.68,83 287.28,83 287.28,84 287.34,84 287.34,85 288.49,85 288.49,86 290.84,86 290.84,87 289.89,87 289.89,88 290.23,88 290.23,89 289.64,89 289.64,90 290.01,90 290.01,91 290.04,91 290.04,92 290.23,92 290.23,93 290.9,93 290.9,94 291.15,94 291.15,95 291.98,95 291.98,96 291.83,96 291.83,97 292.21,97 292.21,98 292.02,98 292.02,99 292.2,99 292.2,100 291.56,100 291.56,101 290.58,101 290.58,102 291.77,102 291.77,103 291.9,103 291.9,104 291.73,104 291.73,105 290.87,105 290.87,106 290.88,106 290.88,107 289.73,107 289.73,108 290.6,108 290.6,109 289.76,109 289.76,110 288.86,110 288.86,111 288.09,111 288.09,112 289.14,112 289.14,113 289.3,113 289.3,114 287.59,114 287.59,115 288.79,115 288.79,116 288.01,116 288.01,117 287.45,117 287.45,118 287.63,118 287.63,119 288.73,119 288.73,120 289.17,120 289.17,121 287.93,121 287.93,122 289.21,122 289.21,123 285.5,123 285.5,122 285.5,122 285.5,121 285.5,121 285.5,120 285.5,120 285.5,119 285.5,119 285.5,118 285.5,118 285.5,117 285.5,117 285.5,116 285.5,116 285.5,115 285.5,115 285.5,114 285.5,114 285.5,113 285.5,113 285.5,112 285.5,112 285.5,111 285.5,111 285.5,110 285.5,110 285.5,109 285.5,109 285.5,108 285.5,108 285.5,107 285.5,107 285.5,106 285.5,106 285.5,105 285.5,105 285.5,104 285.5,104 285.5,103 285.5,103 285.5,102 285.5,102 285.5,101 285.5,101 285.5,100 285.5,100 285.5,99 285.5,99 285.5,98 285.5,98 285.5,97 285.5,97 285.5,96 285.5,96 285.5,95 285.5,95 285.5,94 285.5,94 285.5,93 285.5,93 285.5,92 285.5,92 285.5,91 285.5,91 285.5,90 285.5,90 285.5,89 285.5,89 285.5,88 285.5,88 285.5,87 285.5,87 285.5,86 285.5,86 285.5,85 285.5,85 285.5,84 285.5,84 285.5,83 285.5,83 285.5,82 285.5,82 285.5,81 285.5,81 285.5,80 285.5,80 285.5,79 285.5,79 285.5,78 285.5,78 285.5,77 285.5,77 285.5,76 285.5,76 285.5,75 285.5,75 285.5,74 285.5,74 285.5,73 285.5,73 285.5,72 285.5,72 285.5,71 285.5,71 285.5,70 285.5,70 285.5,69 285.5,69 285.5,68 285.5,68 285.5,67 285.5,67 285.5,66 285.5,66 285.5,65 285.5,65 285.5,64 285.5,64 285.5,63 285.5,63 285.5,62 285.5,62 285.5,61 285.5,61 285.5,60 285.5,60 285.5,59 285.5,59 285.5,58 285.5,58 285.5,57 285.5,57 285.5,56 285.5,56 285.5,55 285.5,55 285.5,54 285.5,54 285.5,53 285.5,53 285.5,52 285.5,52 285.5,51 285.5,51 285.5,50 285.5,50 285.5,49 285.5,49 285.5,48 285.5,48 285.5,47 285.5,47 285.5,46" fill="#10c832"/>
<polygon points="293.37,118 293.37,119 294.08,119 294.08,120 293.63,120 293.63,121 296,121 296,122 294.8,122 294.8,123 293.42,123 293.42,124 291.71,124 291.71,125 291.81,125 291.81,126 293.29,126 293.29,127 293.22,127 293.22,128 292.04,128 292.04,129 293.06,129 293.06,130 293.41,130 293.41,131 292.75,131 292.75,132 292.41,132 292.41,133 292.24,133 292.24,134 293.24,134 293.24,135 292.21,135 292.21,136 292.98,136 292.98,137 293.17,137 293.17,138 292.52,138 292.52,139 292.99,139 292.99,140 292.19,140 292.19,141 295.25,141 295.25,142 294.91,142 294.91,143 294.81,143 294.81,144 294.6,144 294.6,145 295.19,145 295.19,146 293.12,146 293.12,147 292.99,147 292.99,148 291.65,148 291.65,149 291.57,149 291.57,150 292.97,150 292.97,151 290.95,151 290.95,152 292.64,152 292.64,153 291.27,153 291.27,154 291.03,154 291.03,155 290.6,155 290.6,156 292.55,156 292.55,157 292.06,157 292.06,158 290.44,158 290.44,159 292.82,159 292.82,160 291.59,160 291.59,161 292.19,161 292.19,162 291.5,162 291.5,163 287.76,163 287.76,162 289.25,162 289.25,161 289.54,161 289.54,160 289.13,160 289.13,159 287.95,159 287.95,158 289.55,158 289.55,157 289.52,157 289.52,156 288.89,156 288.89,155 288.31,155 288.31,154 287.99,154 287.99,153 288.66,153 288.66,152 287.72,152 287.72,151 287.41,151 287.41,150 288.49,150 288.49,149 288.93,149 288.93,148 287.79,148 287.79,147 287.6,147 287.6,146 287.58,146 287.58,145 287.92,145 287.92,144 288.37,144 288.37,143 288.58,143 288.58,142 287.17,142 287.17,141 287.78,141 287.78,140 288.07,140 288.07,139 288.02,139 288.02,138 289.05,138 289.05,137 288.38,137 288.38,136 287.71,136 287.71,135 289.06,135 289.06,134 287.18,134 287.18,133 287.39,133 287.39,132 288.56,132 288.56,131 287.14,131 287.14,130 288.98,130 288.98,129 288.42,129 288.42,128 287.37,128 287.37,127 288.83,127 288.83,126 289.11,126 289.11,125 287.12,125 287.12,124 287.52,124 287.52,123 287.38,123 287.38,122 288.76,122 288.76,121 287.79,121 287.79,120 287.18,120 287.18,119 287.05,119 287.05,118" fill="#f4f000"/>
<polygon points="289.75,122 289.75,123 290.22,123 290.22,124 290.23,124 290.23,125 288.93,125 288.93,126 290.89,126 290.89,127 290.93,127 290.93,128 290.19,128 290.19,129 290.46,129 290.46,130 289.53,130 289.53,131 290.01,131 290.01,132 290.93,132 290.93,133 290.94,133 290.94,134 290.53,134 290.53,135 289.25,135 289.25,136 289.62,136 289.62,137 291.11,137 291.11,138 289.68,138 289.68,139 290.13,139 290.13,140 289.41,140 289.41,141 290.43,141 290.43,142 290.89,142 290.89,143 289.87,143 289.87,144 289.49,144 289.49,145 289.85,145 289.85,146 289.31,146 289.31,147 290.03,147 290.03,148 291.04,148 291.04,149 290.08,149 290.08,150 290.91,150 290.91,151 291.4,151 291.4,152 290.91,152 290.91,153 289.4,153 289.4,154 290.05,154 290.05,155 289.29,155 289.29,156 289.59,156 289.59,157 289.57,157 289.57,158 291,158 291,159 289.78,159 289.78,160 290.09,160 290.09,161 289.22,161 289.22,162 287.8,162 287.8,161 287.84,161 287.84,160 286.99,160 286.99,159 288.16,159 288.16,158 287.78,158 287.78,157 288.17,157 288.17,156 286.35,156 286.35,155 287.4,155 287.4,154 287.81,154 287.81,153 287.92,153 287.92,152 286.27,152 286.27,151 286.33,151 286.33,150 287.17,150 287.17,149 287.16,149 287.16,148 286.81,148 286.81,147 287.54,147 287.54,146 287.38,146 287.38,145 286.3,145 286.3,144 286.49,144 286.49,143 286.75,143 286.75,142 288.08,142 288.08,141 288.02,141 288.02,140 287.49,140 287.49,139 288.05,139 288.05,138 287.86,138 287.86,137 286.54,137 286.54,136 287.84,136 287.84,135 286.35,135 286.35,134 286.36,134 286.36,133 286.4,133 286.4,132 287.9,132 287.9,131 286.49,131 286.49,130 287.2,130 287.2,129 286.54,129 286.54,128 286.26,128 286.26,127 287.33,127 287.33,126 286.95,126 286.95,125 287.86,125 287.86,124 287.89,124 287.89,123 287.48,123 287.48,122" fill="#10c832"/>
<polyline points="290,161.5 293,162.2 298,163.6 296,165.5 292,167 291.3,170 292,174 291.3,178 293,181 297,183 295,185 298.5,187 294,189 297,191 293,193 291,195" fill="none" stroke="#f4f000" stroke-width="3.0" stroke-linejoin="round" stroke-linecap="round"/>
<rect x="288" y="169.2" width="1.8" height="1.6" fill="#10c832"/>
<rect x="288" y="179.2" width="1.8" height="1.6" fill="#10c832"/>
<rect x="288" y="196.2" width="1.8" height="1.6" fill="#10c832"/>
<rect x="288" y="205.2" width="1.8" height="1.6" fill="#10c832"/>
<rect x="288" y="213.2" width="1.8" height="1.6" fill="#10c832"/>
<polygon points="299.65,193 299.65,194 300.3,194 300.3,195 300.07,195 300.07,196 299.12,196 299.12,197 299.07,197 299.07,198 299.14,198 299.14,199 299.85,199 299.85,200 299.25,200 299.25,201 300.25,201 300.25,202 300.15,202 300.15,203 300.95,203 300.95,204 300.72,204 300.72,205 299.29,205 299.29,206 299.62,206 299.62,207 299.36,207 299.36,208 300.28,208 300.28,209 300.1,209 300.1,210 299.12,210 299.12,211 300.36,211 300.36,212 299.63,212 299.63,213 289.17,213 289.17,212 288.86,212 288.86,211 288.41,211 288.41,210 288.13,210 288.13,209 288.74,209 288.74,208 289.16,208 289.16,207 289.63,207 289.63,206 288.24,206 288.24,205 288.58,205 288.58,204 288.09,204 288.09,203 288.79,203 288.79,202 289.9,202 289.9,201 288.45,201 288.45,200 289.65,200 289.65,199 288.18,199 288.18,198 288.87,198 288.87,197 289.01,197 289.01,196 288.73,196 288.73,195 288.14,195 288.14,194 288.3,194 288.3,193" fill="#f4f000"/>
<polygon points="305.45,194 305.45,195 308.92,195 308.92,196 309.25,196 309.25,197 308.41,197 308.41,198 304.5,198 304.5,199 301.49,199 301.49,200 303.66,200 303.66,201 302.75,201 302.75,202 304.28,202 304.28,203 303.25,203 303.25,204 302.57,204 302.57,205 301.99,205 301.99,206 302.88,206 302.88,207 305.66,207 305.66,208 306.85,208 306.85,209 308.67,209 308.67,210 308.64,210 308.64,211 309.53,211 309.53,212 299,212 299,211 299,211 299,210 299,210 299,209 299,209 299,208 299,208 299,207 299,207 299,206 299,206 299,205 299,205 299,204 299,204 299,203 299,203 299,202 299,202 299,201 299,201 299,200 299,200 299,199 299,199 299,198 299,198 299,197 299,197 299,196 299,196 299,195 299,195 299,194" fill="#ff9800"/>
<polygon points="315.94,208.5 315.94,209.5 319.13,209.5 319.13,210.5 318.75,210.5 318.75,211.5 316.59,211.5 316.59,212.5 309,212.5 309,211.5 309,211.5 309,210.5 309,210.5 309,209.5 309,209.5 309,208.5" fill="#ff0a0a"/>
<polygon points="292.14,212 292.14,213 292.49,213 292.49,214 293.29,214 293.29,215 293.31,215 293.31,216 292.42,216 292.42,217 291.25,217 291.25,218 292.12,218 292.12,219 291.22,219 291.22,220 291.1,220 291.1,221 292.52,221 292.52,222 293.37,222 293.37,223 291.89,223 291.89,224 293.21,224 293.21,225 292.1,225 292.1,226 290.51,226 290.51,227 292.55,227 292.55,228 291.57,228 291.57,229 291.63,229 291.63,230 291.37,230 291.37,231 291.17,231 291.17,232 289.81,232 289.81,233 289.83,233 289.83,234 287.07,234 287.07,233 287.45,233 287.45,232 288.69,232 288.69,231 287.13,231 287.13,230 288.1,230 288.1,229 288.8,229 288.8,228 287.61,228 287.61,227 287.27,227 287.27,226 287.09,226 287.09,225 288.94,225 288.94,224 288.54,224 288.54,223 288.32,223 288.32,222 287.91,222 287.91,221 287.57,221 287.57,220 288.21,220 288.21,219 287.09,219 287.09,218 288.91,218 288.91,217 287.66,217 287.66,216 287.32,216 287.32,215 288.65,215 288.65,214 287.41,214 287.41,213 287.86,213 287.86,212" fill="#f4f000"/>
<polygon points="289.41,212 289.41,213 290.26,213 290.26,214 289.51,214 289.51,215 288.93,215 288.93,216 289.73,216 289.73,217 288.77,217 288.77,218 288.76,218 288.76,219 289.85,219 289.85,220 290.37,220 290.37,221 289.78,221 289.78,222 288.88,222 288.88,223 289.55,223 289.55,224 288.94,224 288.94,225 288.65,225 288.65,226 289.39,226 289.39,227 289.53,227 289.53,228 289.5,228 289.5,229 289.42,229 289.42,230 290.4,230 290.4,231 290.11,231 290.11,232 289.17,232 289.17,233 289.12,233 289.12,234 286.23,234 286.23,233 286.51,233 286.51,232 287.37,232 287.37,231 287.89,231 287.89,230 286.6,230 286.6,229 287.29,229 287.29,228 287.25,228 287.25,227 287.62,227 287.62,226 286.94,226 286.94,225 286.54,225 286.54,224 286.21,224 286.21,223 286.13,223 286.13,222 287.21,222 287.21,221 287.84,221 287.84,220 286.18,220 286.18,219 287.56,219 287.56,218 286.65,218 286.65,217 287.53,217 287.53,216 287.02,216 287.02,215 287.16,215 287.16,214 286.94,214 286.94,213 287.11,213 287.11,212" fill="#10c832"/>
<polygon points="289.96,233 289.96,234 290.16,234 290.16,235 289.17,235 289.17,236 289.47,236 289.47,237 289.98,237 289.98,238 289.72,238 289.72,239 289.07,239 289.07,240 289.03,240 289.03,241 288.93,241 288.93,242 289,242 289,243 289.42,243 289.42,244 290.18,244 290.18,245 289.14,245 289.14,246 289.81,246 289.81,247 290.53,247 290.53,248 289.36,248 289.36,249 289.44,249 289.44,250 290.17,250 290.17,251 290.33,251 290.33,252 289.64,252 289.64,253 290.01,253 290.01,254 290.33,254 290.33,255 290.09,255 290.09,256 290.62,256 290.62,257 291.02,257 291.02,258 290.2,258 290.2,259 290.72,259 290.72,260 289.96,260 289.96,261 290.37,261 290.37,262 291.06,262 291.06,263 290.03,263 290.03,264 290.65,264 290.65,265 290.42,265 290.42,266 290.72,266 290.72,267 290.38,267 290.38,268 290.55,268 290.55,269 288.27,269 288.27,268 288.01,268 288.01,267 288.26,267 288.26,266 287.71,266 287.71,265 287.78,265 287.78,264 288.14,264 288.14,263 287.63,263 287.63,262 287.58,262 287.58,261 287.13,261 287.13,260 287.69,260 287.69,259 287.21,259 287.21,258 287.58,258 287.58,257 287.95,257 287.95,256 286.59,256 286.59,255 287.17,255 287.17,254 287.04,254 287.04,253 287.54,253 287.54,252 286.42,252 286.42,251 286.53,251 286.53,250 286.72,250 286.72,249 286.85,249 286.85,248 287.57,248 287.57,247 286.35,247 286.35,246 287.48,246 287.48,245 286.21,245 286.21,244 286.73,244 286.73,243 287.1,243 287.1,242 287.27,242 287.27,241 287.37,241 287.37,240 286.74,240 286.74,239 287.08,239 287.08,238 287.03,238 287.03,237 287.35,237 287.35,236 286.77,236 286.77,235 286.47,235 286.47,234 287.22,234 287.22,233" fill="#10c832"/>
<polygon points="290.61,268 290.61,269 291.92,269 291.92,270 291.75,270 291.75,271 292.31,271 292.31,272 293.87,272 293.87,273 294.05,273 294.05,274 294.17,274 294.17,275 295.54,275 295.54,276 293.72,276 293.72,277 293.43,277 293.43,278 294,278 294,279 294.9,279 294.9,280 295.97,280 295.97,281 295.74,281 295.74,282 296.98,282 296.98,283 297.19,283 297.19,284 296.95,284 296.95,285 296.95,285 296.95,286 297.84,286 297.84,287 298.19,287 298.19,288 297.59,288 297.59,289 296.42,289 296.42,290 296.41,290 296.41,291 295.52,291 295.52,292 295.11,292 295.11,293 295,293 295,294 293.58,294 293.58,295 293.08,295 293.08,296 292.51,296 292.51,297 291.82,297 291.82,298 292.73,298 292.73,299 291.85,299 291.85,300 289.19,300 289.19,299 288.82,299 288.82,298 289.74,298 289.74,297 289.79,297 289.79,296 290.08,296 290.08,295 291.15,295 291.15,294 291.67,294 291.67,293 292.44,293 292.44,292 293.04,292 293.04,291 292.98,291 292.98,290 294.28,290 294.28,289 294.9,289 294.9,288 294.72,288 294.72,287 294.81,287 294.81,286 293.64,286 293.64,285 294.05,285 294.05,284 293.97,284 293.97,283 294.41,283 294.41,282 293.68,282 293.68,281 292.72,281 292.72,280 291.77,280 291.77,279 290.99,279 290.99,278 291.59,278 291.59,277 291.14,277 291.14,276 292.17,276 292.17,275 291.39,275 291.39,274 290.54,274 290.54,273 289.91,273 289.91,272 289.44,272 289.44,271 288.82,271 288.82,270 289.18,270 289.18,269 288.3,269 288.3,268" fill="#f4f000"/>
<polygon points="290.53,299 290.53,300 291.02,300 291.02,301 290.39,301 290.39,302 290.78,302 290.78,303 290.1,303 290.1,304 290.04,304 290.04,305 289.54,305 289.54,306 290.34,306 290.34,307 289.43,307 289.43,308 289.73,308 289.73,309 289.49,309 289.49,310 288.88,310 288.88,311 288.69,311 288.69,312 288.5,312 288.5,313 289.41,313 289.41,314 289.26,314 289.26,315 288.63,315 288.63,316 288.56,316 288.56,317 288.27,317 288.27,318 287.62,318 287.62,319 288.38,319 288.38,320 287.49,320 287.49,321 287.45,321 287.45,322 287.71,322 287.71,323 288.02,323 288.02,324 287.31,324 287.31,325 287.79,325 287.79,326 287.45,326 287.45,327 287.31,327 287.31,328 287.29,328 287.29,329 287.15,329 287.15,330 287.2,330 287.2,331 286.97,331 286.97,332 287.36,332 287.36,333 286.31,333 286.31,334 286.99,334 286.99,335 286.09,335 286.09,336 287.12,336 287.12,337 286.32,337 286.32,338 285.58,338 285.58,337 285.41,337 285.41,336 285.75,336 285.75,335 285.59,335 285.59,334 285.07,334 285.07,333 286.03,333 286.03,332 285.18,332 285.18,331 285.01,331 285.01,330 285.42,330 285.42,329 285.45,329 285.45,328 285.72,328 285.72,327 285.01,327 285.01,326 285.04,326 285.04,325 284.98,325 284.98,324 285.09,324 285.09,323 285.15,323 285.15,322 286.03,322 286.03,321 285.66,321 285.66,320 285.77,320 285.77,319 285.31,319 285.31,318 286.08,318 286.08,317 285.57,317 285.57,316 286.6,316 286.6,315 286.19,315 286.19,314 286.27,314 286.27,313 286.15,313 286.15,312 286.42,312 286.42,311 286.91,311 286.91,310 287.04,310 287.04,309 286.54,309 286.54,308 287.44,308 287.44,307 287.02,307 287.02,306 286.97,306 286.97,305 287.75,305 287.75,304 287.75,304 287.75,303 287.84,303 287.84,302 287.47,302 287.47,301 288.41,301 288.41,300 288.24,300 288.24,299" fill="#10c832"/>
<path d="M285.4,42.1v-3.2M285.4,362.1v3.2M290.49,42.1v-1.8M290.49,362.1v1.8M295.57,42.1v-1.8M295.57,362.1v1.8M300.66,42.1v-1.8M300.66,362.1v1.8M305.75,42.1v-3.2M305.75,362.1v3.2M310.84,42.1v-1.8M310.84,362.1v1.8M315.93,42.1v-1.8M315.93,362.1v1.8M321.01,42.1v-1.8M321.01,362.1v1.8M326.1,42.1v-3.2M326.1,362.1v3.2M331.19,42.1v-1.8M331.19,362.1v1.8M336.27,42.1v-1.8M336.27,362.1v1.8M341.36,42.1v-1.8M341.36,362.1v1.8M346.45,42.1v-3.2M346.45,362.1v3.2M351.54,42.1v-1.8M351.54,362.1v1.8M356.62,42.1v-1.8M356.62,362.1v1.8M361.71,42.1v-1.8M361.71,362.1v1.8M366.8,42.1v-3.2M366.8,362.1v3.2M285.4,361.71h-1.5M366.8,361.71h1.5M285.4,354.61h-1.5M366.8,354.61h1.5M285.4,347.5h-2.4M366.8,347.5h2.4M285.4,340.4h-1.5M366.8,340.4h1.5M285.4,333.29h-1.5M366.8,333.29h1.5M285.4,326.19h-1.5M366.8,326.19h1.5M285.4,319.08h-2.4M366.8,319.08h2.4M285.4,311.98h-1.5M366.8,311.98h1.5M285.4,304.87h-1.5M366.8,304.87h1.5M285.4,297.76h-1.5M366.8,297.76h1.5M285.4,290.66h-2.4M366.8,290.66h2.4M285.4,283.56h-1.5M366.8,283.56h1.5M285.4,276.45h-1.5M366.8,276.45h1.5M285.4,269.35h-1.5M366.8,269.35h1.5M285.4,262.24h-2.4M366.8,262.24h2.4M285.4,255.13h-1.5M366.8,255.13h1.5M285.4,248.03h-1.5M366.8,248.03h1.5M285.4,240.93h-1.5M366.8,240.93h1.5M285.4,233.82h-2.4M366.8,233.82h2.4M285.4,226.72h-1.5M366.8,226.72h1.5M285.4,219.61h-1.5M366.8,219.61h1.5M285.4,212.5h-1.5M366.8,212.5h1.5M285.4,205.4h-2.4M366.8,205.4h2.4M285.4,198.3h-1.5M366.8,198.3h1.5M285.4,191.19h-1.5M366.8,191.19h1.5M285.4,184.09h-1.5M366.8,184.09h1.5M285.4,176.98h-2.4M366.8,176.98h2.4M285.4,169.88h-1.5M366.8,169.88h1.5M285.4,162.77h-1.5M366.8,162.77h1.5M285.4,155.67h-1.5M366.8,155.67h1.5M285.4,148.56h-2.4M366.8,148.56h2.4M285.4,141.45h-1.5M366.8,141.45h1.5M285.4,134.35h-1.5M366.8,134.35h1.5M285.4,127.25h-1.5M366.8,127.25h1.5M285.4,120.14h-2.4M366.8,120.14h2.4M285.4,113.03h-1.5M366.8,113.03h1.5M285.4,105.93h-1.5M366.8,105.93h1.5M285.4,98.83h-1.5M366.8,98.83h1.5M285.4,91.72h-2.4M366.8,91.72h2.4M285.4,84.61h-1.5M366.8,84.61h1.5M285.4,77.51h-1.5M366.8,77.51h1.5M285.4,70.41h-1.5M366.8,70.41h1.5M285.4,63.3h-2.4M366.8,63.3h2.4M285.4,56.19h-1.5M366.8,56.19h1.5M285.4,49.09h-1.5M366.8,49.09h1.5" stroke="#555" stroke-width="0.7" fill="none"/>
<path d="M285.4,42.1H366.8V362.1" stroke="#8a8a8a" stroke-width="1" fill="none"/>
<path d="M366.8,362.1H285.4V42.1" stroke="#3a3a3a" stroke-width="0.9" fill="none"/>
<text x="279.4" y="351.1" font-size="8.6" text-anchor="end" fill="#222">24</text>
<text x="279.4" y="322.68" font-size="8.6" text-anchor="end" fill="#222">26</text>
<text x="279.4" y="294.26" font-size="8.6" text-anchor="end" fill="#222">28</text>
<text x="279.4" y="265.84" font-size="8.6" text-anchor="end" fill="#222">30</text>
<text x="279.4" y="237.42" font-size="8.6" text-anchor="end" fill="#222">32</text>
<text x="279.4" y="209" font-size="8.6" text-anchor="end" fill="#222">34</text>
<text x="279.4" y="180.58" font-size="8.6" text-anchor="end" fill="#222">36</text>
<text x="279.4" y="152.16" font-size="8.6" text-anchor="end" fill="#222">38</text>
<text x="279.4" y="123.74" font-size="8.6" text-anchor="end" fill="#222">40</text>
<text x="279.4" y="95.32" font-size="8.6" text-anchor="end" fill="#222">42</text>
<text x="279.4" y="66.9" font-size="8.6" text-anchor="end" fill="#222">44</text>
<text x="285.4" y="375.5" font-size="8.6" text-anchor="middle" fill="#000">0</text>
<text x="305.75" y="375.5" font-size="8.6" text-anchor="middle" fill="#000">2</text>
<text x="326.1" y="375.5" font-size="8.6" text-anchor="middle" fill="#000">4</text>
<text x="346.45" y="375.5" font-size="8.6" text-anchor="middle" fill="#000">6</text>
<text x="366.8" y="375.5" font-size="8.6" text-anchor="middle" fill="#000">8</text>
<rect x="318.2" y="348.2" width="45.80000000000001" height="11.300000000000011" fill="#fff" stroke="#8a8a8a" stroke-width="0.9"/>
<rect x="324.1" y="352.90000000000003" width="1.8" height="1.8" fill="#00c832"/>
<text x="331.3" y="355.9" font-size="8.8" font-style="italic" fill="#111">η</text><text x="334.3" y="357.29999999999995" font-size="6.2" fill="#111" textLength="11.6" lengthAdjust="spacing">max</text><text x="349.3" y="355.9" font-size="8.8" fill="#111" textLength="12.4" lengthAdjust="spacingAndGlyphs">(m)</text>
<path d="M395.39,42V362.1M400.48,42V362.1M405.56,42V362.1M415.74,42V362.1M420.82,42V362.1M425.91,42V362.1M436.09,42V362.1M441.18,42V362.1M446.26,42V362.1M456.44,42V362.1M461.52,42V362.1M466.61,42V362.1M390.3,354.61H471.7M390.3,340.4H471.7M390.3,333.29H471.7M390.3,326.19H471.7M390.3,311.98H471.7M390.3,304.87H471.7M390.3,297.76H471.7M390.3,283.56H471.7M390.3,276.45H471.7M390.3,269.35H471.7M390.3,255.13H471.7M390.3,248.03H471.7M390.3,240.93H471.7M390.3,226.72H471.7M390.3,219.61H471.7M390.3,212.5H471.7M390.3,198.3H471.7M390.3,191.19H471.7M390.3,184.09H471.7M390.3,169.88H471.7M390.3,162.77H471.7M390.3,155.67H471.7M390.3,141.45H471.7M390.3,134.35H471.7M390.3,127.25H471.7M390.3,113.03H471.7M390.3,105.93H471.7M390.3,98.83H471.7M390.3,84.61H471.7M390.3,77.51H471.7M390.3,70.41H471.7M390.3,56.19H471.7M390.3,49.09H471.7" stroke="#d4d4d4" stroke-width="0.6" stroke-dasharray="1.6,1.2" fill="none"/>
<path d="M410.65,42V362.1M431,42V362.1M451.35,42V362.1M390.3,347.5H471.7M390.3,319.08H471.7M390.3,290.66H471.7M390.3,262.24H471.7M390.3,233.82H471.7M390.3,205.4H471.7M390.3,176.98H471.7M390.3,148.56H471.7M390.3,120.14H471.7M390.3,91.72H471.7M390.3,63.3H471.7" stroke="#d8d8d8" stroke-width="0.7" fill="none"/>
<polygon points="400.2,56 400.2,57 403.21,57 403.21,58 404.82,58 404.82,59 404.32,59 404.32,60 403.57,60 403.57,61 404.83,61 404.83,62 404.74,62 404.74,63 403.53,63 403.53,64 403.01,64 403.01,65 402.37,65 402.37,66 401.81,66 401.81,67 401.69,67 401.69,68 401.2,68 401.2,69 396,69 396,68 396,68 396,67 396,67 396,66 396,66 396,65 396,65 396,64 396,64 396,63 396,63 396,62 396,62 396,61 396,61 396,60 396,60 396,59 396,59 396,58 396,58 396,57 396,57 396,56" fill="#f4f000"/>
<polygon points="404.92,95.5 404.92,96.5 405.81,96.5 405.81,97.5 405.9,97.5 405.9,98.5 405.95,98.5 405.95,99.5 403.32,99.5 403.32,100.5 403.09,100.5 403.09,101.5 403.4,101.5 403.4,102.5 401.39,102.5 401.39,103.5 396,103.5 396,102.5 396,102.5 396,101.5 396,101.5 396,100.5 396,100.5 396,99.5 396,99.5 396,98.5 396,98.5 396,97.5 396,97.5 396,96.5 396,96.5 396,95.5" fill="#f4f000"/>
<polygon points="402.68,127 402.68,128 404.38,128 404.38,129 404.5,129 404.5,130 401.96,130 401.96,131 396,131 396,130 396,130 396,129 396,129 396,128 396,128 396,127" fill="#f4f000"/>
<polygon points="392.14,46 392.14,47 393.52,47 393.52,48 392.55,48 392.55,49 395.49,49 395.49,50 393.58,50 393.58,51 395.51,51 395.51,52 394.28,52 394.28,53 397.02,53 397.02,54 395.95,54 395.95,55 398.62,55 398.62,56 399.67,56 399.67,57 400.17,57 400.17,58 399.57,58 399.57,59 401.22,59 401.22,60 401.96,60 401.96,61 399.22,61 399.22,62 400.3,62 400.3,63 401.5,63 401.5,64 400.72,64 400.72,65 399.46,65 399.46,66 398.66,66 398.66,67 400.23,67 400.23,68 397.26,68 397.26,69 398.28,69 398.28,70 397.53,70 397.53,71 394.72,71 394.72,72 394.48,72 394.48,73 394.29,73 394.29,74 394.88,74 394.88,75 394.23,75 394.23,76 395.68,76 395.68,77 395.65,77 395.65,78 393.7,78 393.7,79 395.31,79 395.31,80 392.71,80 392.71,81 393.04,81 393.04,82 395,82 395,83 395.65,83 395.65,84 395.96,84 395.96,85 396.73,85 396.73,86 396.58,86 396.58,87 395.05,87 395.05,88 396.73,88 396.73,89 397.52,89 397.52,90 395.28,90 395.28,91 396.73,91 396.73,92 395.96,92 395.96,93 396.18,93 396.18,94 397.44,94 397.44,95 398.84,95 398.84,96 400.59,96 400.59,97 398.89,97 398.89,98 399.92,98 399.92,99 401.29,99 401.29,100 400.5,100 400.5,101 399.7,101 399.7,102 398.73,102 398.73,103 397.39,103 397.39,104 393.78,104 393.78,105 397.18,105 397.18,106 399.45,106 399.45,107 398.87,107 398.87,108 400.28,108 400.28,109 399.31,109 399.31,110 399.71,110 399.71,111 400.99,111 400.99,112 397,112 397,113 394.56,113 394.56,114 395.72,114 395.72,115 395.3,115 395.3,116 396.62,116 396.62,117 394.75,117 394.75,118 396.86,118 396.86,119 397.67,119 397.67,120 398.95,120 398.95,121 398.64,121 398.64,122 399.15,122 399.15,123 400.19,123 400.19,124 398.11,124 398.11,125 400.97,125 400.97,126 400.13,126 400.13,127 400.43,127 400.43,128 399.62,128 399.62,129 399.73,129 399.73,130 399.23,130 399.23,131 399.02,131 399.02,132 398.33,132 398.33,133 398.41,133 398.41,134 398.21,134 398.21,135 398.18,135 398.18,136 399.72,136 399.72,137 399.15,137 399.15,138 398.42,138 398.42,139 396.3,139 396.3,140 396.79,140 396.79,141 397.57,141 397.57,142 397.95,142 397.95,143 397.07,143 397.07,144 397.65,144 397.65,145 398.4,145 398.4,146 396.43,146 396.43,147 396.71,147 396.71,148 397.78,148 397.78,149 396.54,149 396.54,150 397.83,150 397.83,151 396.94,151 396.94,152 395.89,152 395.89,153 397.3,153 397.3,154 396.2,154 396.2,155 398.14,155 398.14,156 398.11,156 398.11,157 396.95,157 396.95,158 397.84,158 397.84,159 395.57,159 395.57,160 396.05,160 396.05,161 395.03,161 395.03,162 390.4,162 390.4,161 390.4,161 390.4,160 390.4,160 390.4,159 390.4,159 390.4,158 390.4,158 390.4,157 390.4,157 390.4,156 390.4,156 390.4,155 390.4,155 390.4,154 390.4,154 390.4,153 390.4,153 390.4,152 390.4,152 390.4,151 390.4,151 390.4,150 390.4,150 390.4,149 390.4,149 390.4,148 390.4,148 390.4,147 390.4,147 390.4,146 390.4,146 390.4,145 390.4,145 390.4,144 390.4,144 390.4,143 390.4,143 390.4,142 390.4,142 390.4,141 390.4,141 390.4,140 390.4,140 390.4,139 390.4,139 390.4,138 390.4,138 390.4,137 390.4,137 390.4,136 390.4,136 390.4,135 390.4,135 390.4,134 390.4,134 390.4,133 390.4,133 390.4,132 390.4,132 390.4,131 390.4,131 390.4,130 390.4,130 390.4,129 390.4,129 390.4,128 390.4,128 390.4,127 390.4,127 390.4,126 390.4,126 390.4,125 390.4,125 390.4,124 390.4,124 390.4,123 390.4,123 390.4,122 390.4,122 390.4,121 390.4,121 390.4,120 390.4,120 390.4,119 390.4,119 390.4,118 390.4,118 390.4,117 390.4,117 390.4,116 390.4,116 390.4,115 390.4,115 390.4,114 390.4,114 390.4,113 390.4,113 390.4,112 390.4,112 390.4,111 390.4,111 390.4,110 390.4,110 390.4,109 390.4,109 390.4,108 390.4,108 390.4,107 390.4,107 390.4,106 390.4,106 390.4,105 390.4,105 390.4,104 390.4,104 390.4,103 390.4,103 390.4,102 390.4,102 390.4,101 390.4,101 390.4,100 390.4,100 390.4,99 390.4,99 390.4,98 390.4,98 390.4,97 390.4,97 390.4,96 390.4,96 390.4,95 390.4,95 390.4,94 390.4,94 390.4,93 390.4,93 390.4,92 390.4,92 390.4,91 390.4,91 390.4,90 390.4,90 390.4,89 390.4,89 390.4,88 390.4,88 390.4,87 390.4,87 390.4,86 390.4,86 390.4,85 390.4,85 390.4,84 390.4,84 390.4,83 390.4,83 390.4,82 390.4,82 390.4,81 390.4,81 390.4,80 390.4,80 390.4,79 390.4,79 390.4,78 390.4,78 390.4,77 390.4,77 390.4,76 390.4,76 390.4,75 390.4,75 390.4,74 390.4,74 390.4,73 390.4,73 390.4,72 390.4,72 390.4,71 390.4,71 390.4,70 390.4,70 390.4,69 390.4,69 390.4,68 390.4,68 390.4,67 390.4,67 390.4,66 390.4,66 390.4,65 390.4,65 390.4,64 390.4,64 390.4,63 390.4,63 390.4,62 390.4,62 390.4,61 390.4,61 390.4,60 390.4,60 390.4,59 390.4,59 390.4,58 390.4,58 390.4,57 390.4,57 390.4,56 390.4,56 390.4,55 390.4,55 390.4,54 390.4,54 390.4,53 390.4,53 390.4,52 390.4,52 390.4,51 390.4,51 390.4,50 390.4,50 390.4,49 390.4,49 390.4,48 390.4,48 390.4,47 390.4,47 390.4,46" fill="#10c832"/>
<rect x="400.8" y="51.6" width="2" height="2" fill="#f4f000"/>
<rect x="407.4" y="57.5" width="2" height="2" fill="#f4f000"/>
<rect x="408.8" y="56.8" width="2" height="2" fill="#ff9800"/>
<rect x="414.7" y="56.8" width="2" height="2" fill="#ff9800"/>
<rect x="407.4" y="62.8" width="2" height="2" fill="#f4f000"/>
<rect x="406.8" y="66.1" width="2" height="2" fill="#f4f000"/>
<rect x="401" y="110" width="2" height="2" fill="#f4f000"/>
<rect x="401" y="139" width="2" height="2" fill="#f4f000"/>
<rect x="401" y="153" width="2" height="2" fill="#f4f000"/>
<polygon points="403.7,162 403.7,163 406.02,163 406.02,164 406.82,164 406.82,165 407.31,165 407.31,166 410.89,166 410.89,167 406.83,167 406.83,168 401.9,168 401.9,169 397,169 397,168 397,168 397,167 397,167 397,166 397,166 397,165 397,165 397,164 397,164 397,163 397,163 397,162" fill="#f4f000"/>
<polygon points="397.49,160 397.49,161 396.66,161 396.66,162 396.61,162 396.61,163 398.28,163 398.28,164 398.37,164 398.37,165 398.34,165 398.34,166 399.12,166 399.12,167 398.9,167 398.9,168 399.23,168 399.23,169 399.23,169 399.23,170 397.69,170 397.69,171 399.18,171 399.18,172 394.91,172 394.91,171 394.13,171 394.13,170 393.32,170 393.32,169 392.87,169 392.87,168 394.32,168 394.32,167 393.5,167 393.5,166 394.53,166 394.53,165 393.56,165 393.56,164 392.57,164 392.57,163 393.98,163 393.98,162 393.57,162 393.57,161 392.71,161 392.71,160" fill="#10c832"/>
<polygon points="403.36,168 403.36,169 403.88,169 403.88,170 404.9,170 404.9,171 403.47,171 403.47,172 403.56,172 403.56,173 405.78,173 405.78,174 404.4,174 404.4,175 404.29,175 404.29,176 405.16,176 405.16,177 403.44,177 403.44,178 404.98,178 404.98,179 397.5,179 397.5,178 397.5,178 397.5,177 397.5,177 397.5,176 397.5,176 397.5,175 397.5,175 397.5,174 397.5,174 397.5,173 397.5,173 397.5,172 397.5,172 397.5,171 397.5,171 397.5,170 397.5,170 397.5,169 397.5,169 397.5,168" fill="#f4f000"/>
<polygon points="403.14,178 403.14,179 406.97,179 406.97,180 406.24,180 406.24,181 409.1,181 409.1,182 408.15,182 408.15,183 406.06,183 406.06,184 404.73,184 404.73,185 405.31,185 405.31,186 406.61,186 406.61,187 405.97,187 405.97,188 408.03,188 408.03,189 408.28,189 408.28,190 405.72,190 405.72,191 404.73,191 404.73,192 407.3,192 407.3,193 405.85,193 405.85,194 409.97,194 409.97,195 407.19,195 407.19,196 407.07,196 407.07,197 406.09,197 406.09,198 409.47,198 409.47,199 407.11,199 407.11,200 409.58,200 409.58,201 407.88,201 407.88,202 405.23,202 405.23,203 405.01,203 405.01,204 406.42,204 406.42,205 405.65,205 405.65,206 406.55,206 406.55,207 408.96,207 408.96,208 408,208 408,209 408.09,209 408.09,210 406.21,210 406.21,211 404.65,211 404.65,212 400.82,212 400.82,211 399.8,211 399.8,210 400.19,210 400.19,209 401.87,209 401.87,208 399.7,208 399.7,207 401.07,207 401.07,206 402.26,206 402.26,205 398.07,205 398.07,204 401.27,204 401.27,203 401.69,203 401.69,202 398.89,202 398.89,201 402.31,201 402.31,200 399.27,200 399.27,199 399.76,199 399.76,198 401.56,198 401.56,197 399.59,197 399.59,196 399.76,196 399.76,195 399.03,195 399.03,194 400.12,194 400.12,193 400.59,193 400.59,192 397.55,192 397.55,191 400.68,191 400.68,190 398.65,190 398.65,189 400.6,189 400.6,188 401.55,188 401.55,187 401.89,187 401.89,186 401.8,186 401.8,185 398.16,185 398.16,184 397.84,184 397.84,183 400.92,183 400.92,182 397.83,182 397.83,181 398.96,181 398.96,180 397.52,180 397.52,179 397.23,179 397.23,178" fill="#f4f000"/>
<polygon points="399.6,176 399.6,177 399.19,177 399.19,178 400.19,178 400.19,179 399.08,179 399.08,180 399.52,180 399.52,181 399.19,181 399.19,182 394.5,182 394.5,181 394.5,181 394.5,180 394.5,180 394.5,179 394.5,179 394.5,178 394.5,178 394.5,177 394.5,177 394.5,176" fill="#10c832"/>
<polygon points="399.88,185 399.88,186 399.38,186 399.38,187 398.86,187 398.86,188 400.11,188 400.11,189 399.22,189 399.22,190 399.31,190 399.31,191 399.59,191 399.59,192 395,192 395,191 395,191 395,190 395,190 395,189 395,189 395,188 395,188 395,187 395,187 395,186 395,186 395,185" fill="#10c832"/>
<polygon points="399.72,193.5 399.72,194.5 399.88,194.5 399.88,195.5 400.33,195.5 400.33,196.5 398,196.5 398,195.5 398,195.5 398,194.5 398,194.5 398,193.5" fill="#10c832"/>
<polygon points="399.15,205 399.15,206 399.43,206 399.43,207 399.61,207 399.61,208 400.8,208 400.8,209 396,209 396,208 396,208 396,207 396,207 396,206 396,206 396,205" fill="#10c832"/>
<polygon points="416.61,180.5 416.61,181.5 416.71,181.5 416.71,182.5 417.01,182.5 417.01,183.5 416.14,183.5 416.14,184.5 410,184.5 410,183.5 410,183.5 410,182.5 410,182.5 410,181.5 410,181.5 410,180.5" fill="#ff9800"/>
<line x1="411.4" y1="188.3" x2="422.3" y2="188.3" stroke="#ff9800" stroke-width="1.3" stroke-dasharray="2,1.6"/>
<polygon points="423.07,195.5 423.07,196.5 424.54,196.5 424.54,197.5 424.07,197.5 424.07,198.5 420.71,198.5 420.71,199.5 410,199.5 410,198.5 410,198.5 410,197.5 410,197.5 410,196.5 410,196.5 410,195.5" fill="#ff9800"/>
<polygon points="414.2,199 414.2,200 414.16,200 414.16,201 413.16,201 413.16,202 412.94,202 412.94,203 414.84,203 414.84,204 413.42,204 413.42,205 412.97,205 412.97,206 414.51,206 414.51,207 413.86,207 413.86,208 415.05,208 415.05,209 409.5,209 409.5,208 409.5,208 409.5,207 409.5,207 409.5,206 409.5,206 409.5,205 409.5,205 409.5,204 409.5,204 409.5,203 409.5,203 409.5,202 409.5,202 409.5,201 409.5,201 409.5,200 409.5,200 409.5,199" fill="#ff9800"/>
<polygon points="426.8,208 426.8,209 427.2,209 427.2,210 427.19,210 427.19,211 427.43,211 427.43,212 410,212 410,211 410,211 410,210 410,210 410,209 410,209 410,208" fill="#ff9800"/>
<line x1="425.2" y1="197.7" x2="429.8" y2="197.7" stroke="#ff0a0a" stroke-width="1.5" stroke-dasharray="2.2,0.6"/>
<line x1="426.7" y1="209.6" x2="436.8" y2="209.6" stroke="#ff0a0a" stroke-width="1.5" stroke-dasharray="2.2,0.8"/>
<polygon points="404.55,211 404.55,212 405.94,212 405.94,213 405.25,213 405.25,214 402.95,214 402.95,215 403.34,215 403.34,216 403.62,216 403.62,217 403.71,217 403.71,218 404.25,218 404.25,219 402.8,219 402.8,220 404.01,220 404.01,221 402.42,221 402.42,222 404.49,222 404.49,223 403.38,223 403.38,224 404.14,224 404.14,225 404.14,225 404.14,226 404.3,226 404.3,227 403.26,227 403.26,228 403.59,228 403.59,229 402.64,229 402.64,230 404.12,230 404.12,231 403.74,231 403.74,232 401.51,232 401.51,233 402.19,233 402.19,234 402.67,234 402.67,235 400.31,235 400.31,236 397.23,236 397.23,235 396.92,235 396.92,234 397.47,234 397.47,233 398.02,233 398.02,232 398.29,232 398.29,231 399.3,231 399.3,230 397.99,230 397.99,229 397.67,229 397.67,228 398.99,228 398.99,227 399.26,227 399.26,226 398.24,226 398.24,225 399,225 399,224 398.53,224 398.53,223 398.06,223 398.06,222 397.99,222 397.99,221 397.72,221 397.72,220 398.8,220 398.8,219 399.25,219 399.25,218 398.2,218 398.2,217 398.16,217 398.16,216 398.6,216 398.6,215 398.33,215 398.33,214 398.98,214 398.98,213 399.09,213 399.09,212 399.26,212 399.26,211" fill="#f4f000"/>
<polygon points="399.55,211 399.55,212 398.85,212 398.85,213 399,213 399,214 397.89,214 397.89,215 397.08,215 397.08,216 398.15,216 398.15,217 397.55,217 397.55,218 399.51,218 399.51,219 400.78,219 400.78,220 401.02,220 401.02,221 398.33,221 398.33,222 398.78,222 398.78,223 399.78,223 399.78,224 398.82,224 398.82,225 396.6,225 396.6,226 397.74,226 397.74,227 397.73,227 397.73,228 401.03,228 401.03,229 400.64,229 400.64,230 400.56,230 400.56,231 401.48,231 401.48,232 400.99,232 400.99,233 399.86,233 399.86,234 398.63,234 398.63,235 398.37,235 398.37,236 393.35,236 393.35,235 395.15,235 395.15,234 394.4,234 394.4,233 392.85,233 392.85,232 394.28,232 394.28,231 392.48,231 392.48,230 391.77,230 391.77,229 391.61,229 391.61,228 393.07,228 393.07,227 392.05,227 392.05,226 392.08,226 392.08,225 392.42,225 392.42,224 392.59,224 392.59,223 393.21,223 393.21,222 392.17,222 392.17,221 391.77,221 391.77,220 394.11,220 394.11,219 392.23,219 392.23,218 391.74,218 391.74,217 392.1,217 392.1,216 390.32,216 390.32,215 391.23,215 391.23,214 391.8,214 391.8,213 392.9,213 392.9,212 390.77,212 390.77,211" fill="#10c832"/>
<polygon points="398.33,235 398.33,236 398.24,236 398.24,237 397.87,237 397.87,238 397.36,238 397.36,239 396.43,239 396.43,240 396.09,240 396.09,241 396.94,241 396.94,242 397.7,242 397.7,243 398.27,243 398.27,244 397.64,244 397.64,245 397.83,245 397.83,246 398.49,246 398.49,247 398.9,247 398.9,248 396.06,248 396.06,249 396,249 396,250 396.94,250 396.94,251 397.05,251 397.05,252 396.04,252 396.04,253 397.01,253 397.01,254 397.03,254 397.03,255 398.45,255 398.45,256 398.09,256 398.09,257 399.35,257 399.35,258 399.78,258 399.78,259 400.45,259 400.45,260 401.04,260 401.04,261 400.42,261 400.42,262 399.8,262 399.8,263 399.73,263 399.73,264 398.03,264 398.03,265 399.19,265 399.19,266 397.45,266 397.45,267 398.98,267 398.98,268 399.11,268 399.11,269 399.92,269 399.92,270 398.64,270 398.64,271 400.11,271 400.11,272 400.08,272 400.08,273 398.38,273 398.38,274 399.85,274 399.85,275 398.51,275 398.51,276 399.9,276 399.9,277 395.3,277 395.3,276 396.48,276 396.48,275 394.87,275 394.87,274 396.45,274 396.45,273 395.43,273 395.43,272 396.21,272 396.21,271 396.04,271 396.04,270 394.75,270 394.75,269 395.3,269 395.3,268 393.99,268 393.99,267 394.26,267 394.26,266 393.33,266 393.33,265 395.37,265 395.37,264 394.96,264 394.96,263 395.26,263 395.26,262 394.47,262 394.47,261 396.71,261 396.71,260 395.23,260 395.23,259 393.67,259 393.67,258 393.6,258 393.6,257 392.97,257 392.97,256 392.19,256 392.19,255 392.44,255 392.44,254 391.69,254 391.69,253 391.69,253 391.69,252 390.9,252 390.9,251 390.01,251 390.01,250 391.99,250 391.99,249 391.74,249 391.74,248 392.48,248 392.48,247 393.05,247 393.05,246 392.7,246 392.7,245 392.76,245 392.76,244 392.47,244 392.47,243 391.44,243 391.44,242 392.91,242 392.91,241 392.04,241 392.04,240 391.04,240 391.04,239 390.91,239 390.91,238 391.5,238 391.5,237 390.86,237 390.86,236 391.83,236 391.83,235" fill="#10c832"/>
<polygon points="399.42,274 399.42,275 400.02,275 400.02,276 401.38,276 401.38,277 401.38,277 401.38,278 401.86,278 401.86,279 403.92,279 403.92,280 405.31,280 405.31,281 407.85,281 407.85,282 408,282 408,283 407.03,283 407.03,284 406.93,284 406.93,285 405.51,285 405.51,286 405.38,286 405.38,287 405.84,287 405.84,288 407.36,288 407.36,289 407.74,289 407.74,290 407.48,290 407.48,291 407.19,291 407.19,292 405.33,292 405.33,293 404.86,293 404.86,294 405.03,294 405.03,295 402.8,295 402.8,296 402.9,296 402.9,297 402.74,297 402.74,298 401.7,298 401.7,299 400.55,299 400.55,300 401.45,300 401.45,301 397.83,301 397.83,300 396.94,300 396.94,299 399.14,299 399.14,298 399.09,298 399.09,297 398.2,297 398.2,296 400.05,296 400.05,295 400.84,295 400.84,294 400.34,294 400.34,293 401.02,293 401.02,292 402.27,292 402.27,291 404.14,291 404.14,290 404.27,290 404.27,289 403.74,289 403.74,288 402.38,288 402.38,287 402.92,287 402.92,286 401.64,286 401.64,285 402.42,285 402.42,284 402.6,284 402.6,283 404.23,283 404.23,282 403.84,282 403.84,281 401.35,281 401.35,280 401.43,280 401.43,279 399.63,279 399.63,278 398.21,278 398.21,277 398.29,277 398.29,276 397.29,276 397.29,275 396.77,275 396.77,274" fill="#f4f000"/>
<rect x="409.5" y="279.5" width="2" height="2" fill="#ff9800"/><rect x="410" y="283.5" width="2" height="2" fill="#ff9800"/>
<polygon points="400.95,300 400.95,301 399.77,301 399.77,302 400.22,302 400.22,303 398.55,303 398.55,304 398.62,304 398.62,305 396.77,305 396.77,306 396.06,306 396.06,307 396.02,307 396.02,308 395.8,308 395.8,309 394.75,309 394.75,310 394.56,310 394.56,311 393.93,311 393.93,312 394.29,312 394.29,313 394.2,313 394.2,314 393.45,314 393.45,315 393.26,315 393.26,316 393.1,316 393.1,317 393.81,317 393.81,318 393.92,318 393.92,319 392.9,319 392.9,320 392.64,320 392.64,321 393.21,321 393.21,322 392.51,322 392.51,323 392.51,323 392.51,324 392.9,324 392.9,325 393.5,325 393.5,326 392.7,326 392.7,327 392.62,327 392.62,328 392.94,328 392.94,329 392.31,329 392.31,330 392.38,330 392.38,331 393.04,331 393.04,332 392.1,332 392.1,333 392.08,333 392.08,334 392.32,334 392.32,335 392.72,335 392.72,336 392.47,336 392.47,337 391.59,337 391.59,338 390.95,338 390.95,337 390.06,337 390.06,336 390.39,336 390.39,335 390.98,335 390.98,334 389.94,334 389.94,333 390.82,333 390.82,332 390.84,332 390.84,331 390.46,331 390.46,330 390.07,330 390.07,329 391,329 391,328 390.71,328 390.71,327 391.22,327 391.22,326 391.26,326 391.26,325 390.27,325 390.27,324 391.18,324 391.18,323 390.93,323 390.93,322 390.94,322 390.94,321 390.97,321 390.97,320 390.82,320 390.82,319 391.41,319 391.41,318 390.92,318 390.92,317 390.77,317 390.77,316 390.63,316 390.63,315 391.41,315 391.41,314 391.56,314 391.56,313 390.72,313 390.72,312 391.65,312 391.65,311 390.87,311 390.87,310 391.26,310 391.26,309 391.76,309 391.76,308 392.53,308 392.53,307 393.17,307 393.17,306 394.31,306 394.31,305 394.6,305 394.6,304 395.32,304 395.32,303 396.36,303 396.36,302 396.57,302 396.57,301 397.95,301 397.95,300" fill="#10c832"/>
<path d="M390.3,42v-3.2M390.3,362.1v3.2M395.39,42v-1.8M395.39,362.1v1.8M400.48,42v-1.8M400.48,362.1v1.8M405.56,42v-1.8M405.56,362.1v1.8M410.65,42v-3.2M410.65,362.1v3.2M415.74,42v-1.8M415.74,362.1v1.8M420.82,42v-1.8M420.82,362.1v1.8M425.91,42v-1.8M425.91,362.1v1.8M431,42v-3.2M431,362.1v3.2M436.09,42v-1.8M436.09,362.1v1.8M441.18,42v-1.8M441.18,362.1v1.8M446.26,42v-1.8M446.26,362.1v1.8M451.35,42v-3.2M451.35,362.1v3.2M456.44,42v-1.8M456.44,362.1v1.8M461.52,42v-1.8M461.52,362.1v1.8M466.61,42v-1.8M466.61,362.1v1.8M471.7,42v-3.2M471.7,362.1v3.2M390.3,361.71h-1.5M471.7,361.71h1.5M390.3,354.61h-1.5M471.7,354.61h1.5M390.3,347.5h-2.4M471.7,347.5h2.4M390.3,340.4h-1.5M471.7,340.4h1.5M390.3,333.29h-1.5M471.7,333.29h1.5M390.3,326.19h-1.5M471.7,326.19h1.5M390.3,319.08h-2.4M471.7,319.08h2.4M390.3,311.98h-1.5M471.7,311.98h1.5M390.3,304.87h-1.5M471.7,304.87h1.5M390.3,297.76h-1.5M471.7,297.76h1.5M390.3,290.66h-2.4M471.7,290.66h2.4M390.3,283.56h-1.5M471.7,283.56h1.5M390.3,276.45h-1.5M471.7,276.45h1.5M390.3,269.35h-1.5M471.7,269.35h1.5M390.3,262.24h-2.4M471.7,262.24h2.4M390.3,255.13h-1.5M471.7,255.13h1.5M390.3,248.03h-1.5M471.7,248.03h1.5M390.3,240.93h-1.5M471.7,240.93h1.5M390.3,233.82h-2.4M471.7,233.82h2.4M390.3,226.72h-1.5M471.7,226.72h1.5M390.3,219.61h-1.5M471.7,219.61h1.5M390.3,212.5h-1.5M471.7,212.5h1.5M390.3,205.4h-2.4M471.7,205.4h2.4M390.3,198.3h-1.5M471.7,198.3h1.5M390.3,191.19h-1.5M471.7,191.19h1.5M390.3,184.09h-1.5M471.7,184.09h1.5M390.3,176.98h-2.4M471.7,176.98h2.4M390.3,169.88h-1.5M471.7,169.88h1.5M390.3,162.77h-1.5M471.7,162.77h1.5M390.3,155.67h-1.5M471.7,155.67h1.5M390.3,148.56h-2.4M471.7,148.56h2.4M390.3,141.45h-1.5M471.7,141.45h1.5M390.3,134.35h-1.5M471.7,134.35h1.5M390.3,127.25h-1.5M471.7,127.25h1.5M390.3,120.14h-2.4M471.7,120.14h2.4M390.3,113.03h-1.5M471.7,113.03h1.5M390.3,105.93h-1.5M471.7,105.93h1.5M390.3,98.83h-1.5M471.7,98.83h1.5M390.3,91.72h-2.4M471.7,91.72h2.4M390.3,84.61h-1.5M471.7,84.61h1.5M390.3,77.51h-1.5M471.7,77.51h1.5M390.3,70.41h-1.5M471.7,70.41h1.5M390.3,63.3h-2.4M471.7,63.3h2.4M390.3,56.19h-1.5M471.7,56.19h1.5M390.3,49.09h-1.5M471.7,49.09h1.5M390.3,41.98h-1.5M471.7,41.98h1.5" stroke="#555" stroke-width="0.7" fill="none"/>
<path d="M390.3,42H471.7V362.1" stroke="#8a8a8a" stroke-width="1" fill="none"/>
<path d="M471.7,362.1H390.3V42" stroke="#3a3a3a" stroke-width="0.9" fill="none"/>
<text x="384.3" y="351.1" font-size="8.6" text-anchor="end" fill="#222">24</text>
<text x="384.3" y="322.68" font-size="8.6" text-anchor="end" fill="#222">26</text>
<text x="384.3" y="294.26" font-size="8.6" text-anchor="end" fill="#222">28</text>
<text x="384.3" y="265.84" font-size="8.6" text-anchor="end" fill="#222">30</text>
<text x="384.3" y="237.42" font-size="8.6" text-anchor="end" fill="#222">32</text>
<text x="384.3" y="209" font-size="8.6" text-anchor="end" fill="#222">34</text>
<text x="384.3" y="180.58" font-size="8.6" text-anchor="end" fill="#222">36</text>
<text x="384.3" y="152.16" font-size="8.6" text-anchor="end" fill="#222">38</text>
<text x="384.3" y="123.74" font-size="8.6" text-anchor="end" fill="#222">40</text>
<text x="384.3" y="95.32" font-size="8.6" text-anchor="end" fill="#222">42</text>
<text x="384.3" y="66.9" font-size="8.6" text-anchor="end" fill="#222">44</text>
<text x="390.3" y="375.5" font-size="8.6" text-anchor="middle" fill="#000">0</text>
<text x="410.65" y="375.5" font-size="8.6" text-anchor="middle" fill="#000">2</text>
<text x="431" y="375.5" font-size="8.6" text-anchor="middle" fill="#000">4</text>
<text x="451.35" y="375.5" font-size="8.6" text-anchor="middle" fill="#000">6</text>
<text x="471.7" y="375.5" font-size="8.6" text-anchor="middle" fill="#000">8</text>
<rect x="414.4" y="347.9" width="53.900000000000034" height="11.5" fill="#fff" stroke="#8a8a8a" stroke-width="0.9"/>
<rect x="420.70000000000005" y="352.90000000000003" width="1.8" height="1.8" fill="#00c832"/>
<text x="428.4" y="355.9" font-size="8.8" font-style="italic" fill="#111">u</text><text x="431.8" y="357.29999999999995" font-size="6.2" fill="#111" textLength="11.6" lengthAdjust="spacing">max</text><text x="446.5" y="355.9" font-size="8.8" fill="#111" textLength="19.3" lengthAdjust="spacingAndGlyphs">(m/s)</text>
<path d="M509.5,42.1V362.1M524.4,42.1V362.1M539.2,42.1V362.1M554.1,42.1V362.1M568.8,42.1V362.1M495.3,354.61H577M495.3,340.4H577M495.3,333.29H577M495.3,326.19H577M495.3,311.98H577M495.3,304.87H577M495.3,297.76H577M495.3,283.56H577M495.3,276.45H577M495.3,269.35H577M495.3,255.13H577M495.3,248.03H577M495.3,240.93H577M495.3,226.72H577M495.3,219.61H577M495.3,212.5H577M495.3,198.3H577M495.3,191.19H577M495.3,184.09H577M495.3,169.88H577M495.3,162.77H577M495.3,155.67H577M495.3,141.45H577M495.3,134.35H577M495.3,127.25H577M495.3,113.03H577M495.3,105.93H577M495.3,98.83H577M495.3,84.61H577M495.3,77.51H577M495.3,70.41H577M495.3,56.19H577M495.3,49.09H577" stroke="#d4d4d4" stroke-width="0.6" stroke-dasharray="1.6,1.2" fill="none"/>
<path d="M495.3,347.5H577M495.3,319.08H577M495.3,290.66H577M495.3,262.24H577M495.3,233.82H577M495.3,205.4H577M495.3,176.98H577M495.3,148.56H577M495.3,120.14H577M495.3,91.72H577M495.3,63.3H577" stroke="#d8d8d8" stroke-width="0.7" fill="none"/>
<polygon points="501.97,45 501.97,46 504.15,46 504.15,47 506.93,47 506.93,48 509.04,48 509.04,49 508.54,49 508.54,50 506.19,50 506.19,51 497.52,51 497.52,50 497.73,50 497.73,49 496.19,49 496.19,48 496.61,48 496.61,47 497.48,47 497.48,46 496.01,46 496.01,45" fill="#10c832"/>
<path d="M500.01,48.22h0.91M506.73,49.22h1.63" stroke="#fff" stroke-width="0.8" fill="none" opacity="0.9"/>
<polygon points="536.87,48 536.87,49 533.33,49 533.33,50 539.35,50 539.35,51 539.9,51 539.9,52 509.8,52 509.8,51 509.8,51 509.8,50 509.8,50 509.8,49 509.8,49 509.8,48" fill="#10c832"/>
<path d="M526.77,48.06h0.95M516.42,49.24h1.36M535.21,50.15h1.72M523.09,51.2h1.82" stroke="#fff" stroke-width="0.8" fill="none" opacity="0.9"/>
<path d="M500.72,49h1.64M499.34,50h1" stroke="#10c832" stroke-width="1.3" fill="none"/>
<polygon points="545.59,51 545.59,52 545.78,52 545.78,53 549.18,53 549.18,54 549.17,54 549.17,55 550.79,55 550.79,56 547.48,56 547.48,57 550.5,57 550.5,58 550.61,58 550.61,59 501.35,59 501.35,58 503.47,58 503.47,57 508.82,57 508.82,56 505.68,56 505.68,55 510.27,55 510.27,54 510.35,54 510.35,53 512.43,53 512.43,52 514.45,52 514.45,51" fill="#10c832"/>
<path d="M525.78,51.33h1.23M524.38,52.21h1.19M516.18,53.25h1.04M535.32,54.18h1.97M543.26,55.31h1.72M533.93,56.26h1.46M523.09,56.3h1.41M514.53,57.05h1.21M508.12,57.07h1.02M516.64,58.08h1.97M521.37,58.22h1.11" stroke="#fff" stroke-width="0.8" fill="none" opacity="0.9"/>
<path d="M502.43,52h1.86M503.71,56h2.14" stroke="#10c832" stroke-width="1.3" fill="none"/>
<polygon points="549.65,58 549.65,59 548.22,59 548.22,60 549.84,60 549.84,61 547.79,61 547.79,62 547.53,62 547.53,63 549.51,63 549.51,64 513.89,64 513.89,63 514.55,63 514.55,62 513.11,62 513.11,61 512.22,61 512.22,60 512.53,60 512.53,59 511.05,59 511.05,58" fill="#10c832"/>
<path d="M542.82,58h1.51M519.33,59.43h1.78M523.49,60.28h1.95M536.89,61.37h1.27M516.16,62.25h1.93M538.28,63.5h1.74" stroke="#fff" stroke-width="0.8" fill="none" opacity="0.9"/>
<polygon points="544.75,63 544.75,64 544.49,64 544.49,65 547.39,65 547.39,66 544.13,66 544.13,67 545.67,67 545.67,68 544.81,68 544.81,69 542.44,69 542.44,70 543.1,70 543.1,71 541.17,71 541.17,72 540.66,72 540.66,73 517.71,73 517.71,72 520.7,72 520.7,71 519.73,71 519.73,70 519.66,70 519.66,69 520.38,69 520.38,68 522.55,68 522.55,67 519.52,67 519.52,66 521.55,66 521.55,65 521.55,65 521.55,64 522.65,64 522.65,63" fill="#10c832"/>
<path d="M534.46,64.1h1.33M541.79,65.36h1.31M535.52,66.37h1.43M542.49,67.09h1.73M541.42,69.23h1.7M536.34,70.06h1.32M534.65,72.5h1.36" stroke="#fff" stroke-width="0.8" fill="none" opacity="0.9"/>
<polygon points="541.23,72 541.23,73 538.78,73 538.78,74 540.26,74 540.26,75 538.54,75 538.54,76 538.32,76 538.32,77 539.68,77 539.68,78 537.51,78 537.51,79 537.54,79 537.54,80 539.28,80 539.28,81 517.22,81 517.22,80 519.97,80 519.97,79 519.15,79 519.15,78 520.34,78 520.34,77 515.74,77 515.74,76 516.58,76 516.58,75 520.39,75 520.39,74 518.09,74 518.09,73 518.3,73 518.3,72" fill="#10c832"/>
<path d="M533.91,73.49h1.23M537.67,74.3h1.41M518.92,75.33h0.92M535.43,76.21h1.35M521.93,77.02h1.89M536.02,78.12h1.28" stroke="#fff" stroke-width="0.8" fill="none" opacity="0.9"/>
<path d="M506.31,73h1.82M510.69,76h1.65" stroke="#10c832" stroke-width="1.3" fill="none"/>
<polygon points="540.51,80 540.51,81 540.4,81 540.4,82 545.18,82 545.18,83 545.17,83 545.17,84 544.72,84 544.72,85 543.98,85 543.98,86 543.32,86 543.32,87 545.18,87 545.18,88 543.93,88 543.93,89 511.92,89 511.92,88 512.28,88 512.28,87 511.39,87 511.39,86 512.58,86 512.58,85 510.6,85 510.6,84 514.18,84 514.18,83 512.95,83 512.95,82 514.57,82 514.57,81 515.45,81 515.45,80" fill="#10c832"/>
<path d="M529.34,80.08h1.23M529.48,81.13h1.22M526.47,82.33h1.73M524.59,83.12h0.87M519.85,84.4h0.88M536.77,85.36h1.97M537.46,86.3h1.76M535.14,86.38h1.96M527.56,87.29h1.76M538.92,88.28h1.06" stroke="#fff" stroke-width="0.8" fill="none" opacity="0.9"/>
<path d="M505.52,83h1.94" stroke="#10c832" stroke-width="1.3" fill="none"/>
<polygon points="535.4,88 535.4,89 533.53,89 533.53,90 535.71,90 535.71,91 537.23,91 537.23,92 509.8,92 509.8,91 509.8,91 509.8,90 509.8,90 509.8,89 509.8,89 509.8,88" fill="#10c832"/>
<path d="M513.82,88.43h1.46M515.18,89.03h0.94M512.35,90.26h1.43M514.92,91.28h1.35" stroke="#fff" stroke-width="0.8" fill="none" opacity="0.9"/>
<path d="M502.8,91h1.66" stroke="#10c832" stroke-width="1.3" fill="none"/>
<polygon points="545.42,91 545.42,92 549.03,92 549.03,93 548.53,93 548.53,94 547.7,94 547.7,95 548.44,95 548.44,96 548.33,96 548.33,97 510.18,97 510.18,96 508.39,96 508.39,95 505.55,95 505.55,94 508.07,94 508.07,93 503.61,93 503.61,92 507.16,92 507.16,91" fill="#10c832"/>
<path d="M529.84,91.12h1.89M534.92,92.4h1.75M509.23,92.34h0.87M544.72,93.26h1.03M523.71,93.37h1.03M530.28,94.35h1.94M526.46,95.37h1.93M536.33,95.04h1.01M540.11,96.02h1.9" stroke="#fff" stroke-width="0.8" fill="none" opacity="0.9"/>
<path d="M503.89,95h2.34" stroke="#10c832" stroke-width="1.3" fill="none"/>
<polygon points="547.23,96 547.23,97 548.31,97 548.31,98 547.06,98 547.06,99 549.23,99 549.23,100 547.87,100 547.87,101 547.33,101 547.33,102 512.5,102 512.5,101 512.5,101 512.5,100 512.5,100 512.5,99 512.5,99 512.5,98 512.5,98 512.5,97 512.5,97 512.5,96" fill="#10c832"/>
<path d="M514.05,96.33h0.97M540.61,97.08h1.15M517.23,97.36h1.43M536.5,98.27h1.06M521.36,99.02h1.38M518.65,99.19h1.17M530.49,100.31h0.93M538.7,101.34h0.89M525.29,101.29h1.19" stroke="#fff" stroke-width="0.8" fill="none" opacity="0.9"/>
<polygon points="547.98,101 547.98,102 548.93,102 548.93,103 547.46,103 547.46,104 547.96,104 547.96,105 547.72,105 547.72,106 547,106 547,107 549.18,107 549.18,108 548.4,108 548.4,109 547.8,109 547.8,110 548.69,110 548.69,111 534.39,111 534.39,110 533.93,110 533.93,109 534.51,109 534.51,108 535.57,108 535.57,107 535.4,107 535.4,106 534.49,106 534.49,105 534.58,105 534.58,104 535.58,104 535.58,103 529.46,103 529.46,102 525.17,102 525.17,101" fill="#10c832"/>
<path d="M532.98,101.5h1.21M541.16,106.27h1.89M545.32,109.04h0.91M540.88,110.03h1.42" stroke="#fff" stroke-width="0.8" fill="none" opacity="0.9"/>
<path d="M528.03,105h2.44" stroke="#10c832" stroke-width="1.3" fill="none"/>
<polygon points="548.94,110 548.94,111 547.79,111 547.79,112 543.9,112 543.9,113 542,113 542,114 539.67,114 539.67,115 542.43,115 542.43,116 504.36,116 504.36,115 507.91,115 507.91,114 505.24,114 505.24,113 506.79,113 506.79,112 503.09,112 503.09,111 502.37,111 502.37,110" fill="#10c832"/>
<path d="M519.1,110.36h1.79M523.69,111.04h1.79M510.11,112.18h1.23M524.41,113.17h1.61M533.56,113.05h0.81M532.55,114.18h1.02M515.5,115.34h1.6M515.5,115.23h1.04" stroke="#fff" stroke-width="0.8" fill="none" opacity="0.9"/>
<path d="M495.4,110h2.45M503.29,114h2.49" stroke="#10c832" stroke-width="1.3" fill="none"/>
<polygon points="537.33,115 537.33,116 541.13,116 541.13,117 538.5,117 538.5,118 539.92,118 539.92,119 541.39,119 541.39,120 546.71,120 546.71,121 525.56,121 525.56,120 523.4,120 523.4,119 519.03,119 519.03,118 519.53,118 519.53,117 515.96,117 515.96,116 512.77,116 512.77,115" fill="#10c832"/>
<path d="M535.96,115.27h1.83M535.93,116.28h1.83M526.13,118.49h1.69M540.46,120.36h1.85" stroke="#fff" stroke-width="0.8" fill="none" opacity="0.9"/>
<polygon points="547.91,120 547.91,121 547.75,121 547.75,122 546.46,122 546.46,123 549.03,123 549.03,124 549.49,124 549.49,125 549.65,125 549.65,126 547.33,126 547.33,127 548.48,127 548.48,128 547.3,128 547.3,129 547.12,129 547.12,130 547.58,130 547.58,131 548.94,131 548.94,132 547.16,132 547.16,133 548.85,133 548.85,134 546.47,134 546.47,135 547.3,135 547.3,136 546.06,136 546.06,137 546.33,137 546.33,138 544.21,138 544.21,139 545.22,139 545.22,140 545.71,140 545.71,141 547.94,141 547.94,142 548.1,142 548.1,143 534.29,143 534.29,142 532.56,142 532.56,141 534.12,141 534.12,140 531.15,140 531.15,139 531.88,139 531.88,138 531.08,138 531.08,137 531.97,137 531.97,136 532.18,136 532.18,135 533.8,135 533.8,134 532.78,134 532.78,133 534.52,133 534.52,132 532.6,132 532.6,131 532.21,131 532.21,130 532.51,130 532.51,129 534.95,129 534.95,128 535.34,128 535.34,127 536.07,127 536.07,126 535.55,126 535.55,125 533.38,125 533.38,124 535.01,124 535.01,123 535.14,123 535.14,122 534.35,122 534.35,121 532.77,121 532.77,120" fill="#10c832"/>
<path d="M544.15,126.23h1M538.11,128.37h1.14M542.65,129.17h1.52M544.83,130.21h1.25M539.51,134.37h1.42M546.21,135.04h0.85M538.85,136.24h1.16M537.62,137.21h1.81M537.81,138.27h0.9M540.05,139.41h1.69" stroke="#fff" stroke-width="0.8" fill="none" opacity="0.9"/>
<path d="M524.07,129h1.88M523.66,132h2.28M527.42,136h1.36" stroke="#10c832" stroke-width="1.3" fill="none"/>
<polygon points="548.69,142 548.69,143 550.24,143 550.24,144 549.1,144 549.1,145 548.42,145 548.42,146 550.44,146 550.44,147 549.22,147 549.22,148 549.56,148 549.56,149 547.36,149 547.36,150 549.1,150 549.1,151 550.07,151 550.07,152 547.69,152 547.69,153 549.28,153 549.28,154 548.03,154 548.03,155 549.49,155 549.49,156 548.91,156 548.91,157 549.93,157 549.93,158 548.4,158 548.4,159 549.95,159 549.95,160 547.82,160 547.82,161 536.75,161 536.75,160 536.77,160 536.77,159 539.88,159 539.88,158 539.81,158 539.81,157 540.12,157 540.12,156 539.63,156 539.63,155 541.46,155 541.46,154 539.4,154 539.4,153 539.28,153 539.28,152 540.93,152 540.93,151 540.99,151 540.99,150 537.89,150 537.89,149 539.32,149 539.32,148 537.61,148 537.61,147 536.51,147 536.51,146 538.14,146 538.14,145 537.41,145 537.41,144 536.61,144 536.61,143 535.64,143 535.64,142" fill="#10c832"/>
<path d="M538,142.42h1.24M543.99,145.41h1.37M539.84,147.38h1.08M544.68,149.13h0.87M546.15,151.48h1.34M544.14,153.48h0.95M543.72,154.47h1.9M543,158.42h1.99" stroke="#fff" stroke-width="0.8" fill="none" opacity="0.9"/>
<polygon points="541.71,160 541.71,161 542.8,161 542.8,162 542.24,162 542.24,163 542.84,163 542.84,164 542.27,164 542.27,165 536.4,165 536.4,164 536.4,164 536.4,163 536.4,163 536.4,162 536.4,162 536.4,161 536.4,161 536.4,160" fill="#10c832"/>
<path d="M539.14,160.23h1.27M539.88,163.46h0.98" stroke="#fff" stroke-width="0.8" fill="none" opacity="0.9"/>
<polygon points="546.6,164 546.6,165 550.19,165 550.19,166 550.08,166 550.08,167 548.79,167 548.79,168 547.12,168 547.12,169 547.01,169 547.01,170 548.06,170 548.06,171 538.49,171 538.49,170 534.64,170 534.64,169 531.16,169 531.16,168 535.68,168 535.68,167 534.72,167 534.72,166 535.66,166 535.66,165 538.06,165 538.06,164" fill="#10c832"/>
<path d="M538.86,165.33h1.18M537.47,166.19h1.35M537.29,168.31h1.5M536.1,169.32h1.61" stroke="#fff" stroke-width="0.8" fill="none" opacity="0.9"/>
<path d="M534.82,170h2.04" stroke="#10c832" stroke-width="1.3" fill="none"/>
<polygon points="550.18,170 550.18,171 550.66,171 550.66,172 550.19,172 550.19,173 550.58,173 550.58,174 548.67,174 548.67,175 549.79,175 549.79,176 549.44,176 549.44,177 549.04,177 549.04,178 550.46,178 550.46,179 543.7,179 543.7,178 543.7,178 543.7,177 543.7,177 543.7,176 543.7,176 543.7,175 543.7,175 543.7,174 543.7,174 543.7,173 543.7,173 543.7,172 543.7,172 543.7,171 543.7,171 543.7,170" fill="#10c832"/>
<path d="M545.57,175.49h1.31M545.83,176.38h0.85M548.78,178.18h1.44" stroke="#fff" stroke-width="0.8" fill="none" opacity="0.9"/>
<polygon points="550.15,178 550.15,179 548.6,179 548.6,180 549.08,180 549.08,181 550.46,181 550.46,182 549.34,182 549.34,183 549.8,183 549.8,184 549.06,184 549.06,185 549.42,185 549.42,186 549.28,186 549.28,187 545.74,187 545.74,186 544.54,186 544.54,185 543.74,185 543.74,184 543.39,184 543.39,183 542.19,183 542.19,182 541.09,182 541.09,181 540.71,181 540.71,180 539.25,180 539.25,179 537.19,179 537.19,178" fill="#10c832"/>
<path d="M546.07,178.44h1.51M545.7,182.21h1.46" stroke="#fff" stroke-width="0.8" fill="none" opacity="0.9"/>
<path d="M532.62,183h1.13" stroke="#10c832" stroke-width="1.3" fill="none"/>
<polygon points="552.15,57 552.15,58 552.81,58 552.81,59 552.12,59 552.12,60 552.72,60 552.72,61 548.6,61 548.6,60 548.6,60 548.6,59 548.6,59 548.6,58 548.6,58 548.6,57" fill="#f4f000"/>
<polygon points="553.51,62.5 553.51,63.5 552.61,63.5 552.61,64.5 553.56,64.5 553.56,65.5 548.6,65.5 548.6,64.5 548.6,64.5 548.6,63.5 548.6,63.5 548.6,62.5" fill="#f4f000"/>
<polygon points="553.24,96 553.24,97 553.89,97 553.89,98 553.28,98 553.28,99 553.05,99 553.05,100 548.6,100 548.6,99 548.6,99 548.6,98 548.6,98 548.6,97 548.6,97 548.6,96" fill="#f4f000"/>
<polygon points="552.1,101 552.1,102 551.63,102 551.63,103 552.56,103 552.56,104 548.6,104 548.6,103 548.6,103 548.6,102 548.6,102 548.6,101" fill="#f4f000"/>
<polygon points="552.45,105 552.45,106 551.82,106 551.82,107 552.35,107 552.35,108 548.6,108 548.6,107 548.6,107 548.6,106 548.6,106 548.6,105" fill="#f4f000"/>
<polygon points="553.93,128 553.93,129 553.08,129 553.08,130 553.41,130 553.41,131 548.6,131 548.6,130 548.6,130 548.6,129 548.6,129 548.6,128" fill="#f4f000"/>
<polygon points="550.99,143 550.99,144 550.92,144 550.92,145 549.95,145 549.95,146 548.6,146 548.6,145 548.6,145 548.6,144 548.6,144 548.6,143" fill="#f4f000"/>
<polygon points="549.64,154.5 549.64,155.5 550.51,155.5 550.51,156.5 549.85,156.5 549.85,157.5 548.6,157.5 548.6,156.5 548.6,156.5 548.6,155.5 548.6,155.5 548.6,154.5" fill="#f4f000"/>
<polygon points="552.05,163 552.05,164 551.95,164 551.95,165 552.1,165 552.1,166 551.99,166 551.99,167 552.48,167 552.48,168 548.6,168 548.6,167 548.6,167 548.6,166 548.6,166 548.6,165 548.6,165 548.6,164 548.6,164 548.6,163" fill="#f4f000"/>
<polygon points="551.93,175 551.93,176 551.46,176 551.46,177 552.09,177 552.09,178 548.6,178 548.6,177 548.6,177 548.6,176 548.6,176 548.6,175" fill="#f4f000"/>
<polygon points="552.48,179 552.48,180 551.64,180 551.64,181 552.39,181 552.39,182 548.6,182 548.6,181 548.6,181 548.6,180 548.6,180 548.6,179" fill="#f4f000"/>
<polygon points="556.1,57.5 556.1,58.5 555.65,58.5 555.65,59.5 556.17,59.5 556.17,60.5 552.7,60.5 552.7,59.5 552.7,59.5 552.7,58.5 552.7,58.5 552.7,57.5" fill="#ff9800"/>
<polygon points="557.63,96.5 557.63,97.5 558.37,97.5 558.37,98.5 557.85,98.5 557.85,99.5 553.4,99.5 553.4,98.5 553.4,98.5 553.4,97.5 553.4,97.5 553.4,96.5" fill="#ff9800"/>
<polygon points="555.6,128.5 555.6,129.5 555.84,129.5 555.84,130.5 553.4,130.5 553.4,129.5 553.4,129.5 553.4,128.5" fill="#ff9800"/>
<polygon points="554.61,165 554.61,166 555.12,166 555.12,167 554.91,167 554.91,168 552,168 552,167 552,167 552,166 552,166 552,165" fill="#ff9800"/>
<polygon points="552.82,181 552.82,182 552.12,182 552.12,183 553.39,183 553.39,184 552.95,184 552.95,185 553.23,185 553.23,186 552.76,186 552.76,187 551.9,187 551.9,188 552.05,188 552.05,189 552.14,189 552.14,190 551.06,190 551.06,191 552.87,191 552.87,192 551.7,192 551.7,193 550.94,193 550.94,194 552.37,194 552.37,195 550.77,195 550.77,196 551.01,196 551.01,197 552.19,197 552.19,198 552.15,198 552.15,199 552.3,199 552.3,200 552.68,200 552.68,201 551.51,201 551.51,202 552.53,202 552.53,203 552.64,203 552.64,204 552.41,204 552.41,205 551.3,205 551.3,206 552.6,206 552.6,207 552.85,207 552.85,208 551.35,208 551.35,209 553,209 553,210 551.43,210 551.43,211 551.53,211 551.53,212 553.3,212 553.3,213 552.73,213 552.73,214 553.16,214 553.16,215 553,215 553,216 548.11,216 548.11,215 548.52,215 548.52,214 548.43,214 548.43,213 548.12,213 548.12,212 549.79,212 549.79,211 548.36,211 548.36,210 548.71,210 548.71,209 548.54,209 548.54,208 548.3,208 548.3,207 549.09,207 549.09,206 549.85,206 549.85,205 548.79,205 548.79,204 549.32,204 549.32,203 549.97,203 549.97,202 548.24,202 548.24,201 549.24,201 549.24,200 548.57,200 548.57,199 549.44,199 549.44,198 548.89,198 548.89,197 549.39,197 549.39,196 549.6,196 549.6,195 549.34,195 549.34,194 549.24,194 549.24,193 549.12,193 549.12,192 547.58,192 547.58,191 548.17,191 548.17,190 547.61,190 547.61,189 548.93,189 548.93,188 547.96,188 547.96,187 548.06,187 548.06,186 548.03,186 548.03,185 548.35,185 548.35,184 547.41,184 547.41,183 547.33,183 547.33,182 547.59,182 547.59,181" fill="#f4f000"/>
<polygon points="558.38,181 558.38,182 557.69,182 557.69,183 559.71,183 559.71,184 558.43,184 558.43,185 557.26,185 557.26,186 556.52,186 556.52,187 556.68,187 556.68,188 557.96,188 557.96,189 556.87,189 556.87,190 556.87,190 556.87,191 557.09,191 557.09,192 558.6,192 558.6,193 558.57,193 558.57,194 557.39,194 557.39,195 555.65,195 555.65,196 556.57,196 556.57,197 555.01,197 555.01,198 554.64,198 554.64,199 551.74,199 551.74,198 550.84,198 550.84,197 552.03,197 552.03,196 551.39,196 551.39,195 551.4,195 551.4,194 553.15,194 553.15,193 551.85,193 551.85,192 551.16,192 551.16,191 552.36,191 552.36,190 551.63,190 551.63,189 551.64,189 551.64,188 552.76,188 552.76,187 552.46,187 552.46,186 551.27,186 551.27,185 551.28,185 551.28,184 553.2,184 553.2,183 553.16,183 553.16,182 552.29,182 552.29,181" fill="#ff9800"/>
<polyline points="559,182 562,182" fill="none" stroke="#ff0a0a" stroke-width="1.6" stroke-linejoin="round" stroke-linecap="round"/>
<polyline points="559,188 563,188.5" fill="none" stroke="#ff0a0a" stroke-width="1.6" stroke-linejoin="round" stroke-linecap="round"/>
<polyline points="560.5,193 562,200 561,205 562.5,209.5" fill="none" stroke="#ff0a0a" stroke-width="2.6" stroke-linejoin="round" stroke-linecap="round"/>
<polyline points="565,197.5 569,198" fill="none" stroke="#9a20ff" stroke-width="1.8" stroke-linejoin="round" stroke-linecap="round"/>
<polyline points="564,209.5 573,210" fill="none" stroke="#9a20ff" stroke-width="1.8" stroke-linejoin="round" stroke-linecap="round"/>
<polygon points="553,208.5 558,209 557,213 553,214" fill="#ff9800"/>
<polygon points="548.31,205 548.31,206 549.13,206 549.13,207 549.62,207 549.62,208 531.8,208 531.8,207 531.8,207 531.8,206 531.8,206 531.8,205" fill="#10c832"/>
<polygon points="553.01,206 553.01,207 552.93,207 552.93,208 553.09,208 553.09,209 552.81,209 552.81,210 553.54,210 553.54,211 552.46,211 552.46,212 552.92,212 552.92,213 553.42,213 553.42,214 553.17,214 553.17,215 553.65,215 553.65,216 552.66,216 552.66,217 552.77,217 552.77,218 552.69,218 552.69,219 552.41,219 552.41,220 552.32,220 552.32,221 552.97,221 552.97,222 552.58,222 552.58,223 552.98,223 552.98,224 553.54,224 553.54,225 553.54,225 553.54,226 553.15,226 553.15,227 552.38,227 552.38,228 552.41,228 552.41,229 553.19,229 553.19,230 552.07,230 552.07,231 552.96,231 552.96,232 551.97,232 551.97,233 552.23,233 552.23,234 552.34,234 552.34,235 552.92,235 552.92,236 552.5,236 552.5,237 552.61,237 552.61,238 551.76,238 551.76,239 549,239 549,238 549,238 549,237 549,237 549,236 549,236 549,235 549,235 549,234 549,234 549,233 549,233 549,232 549,232 549,231 549,231 549,230 549,230 549,229 549,229 549,228 549,228 549,227 549,227 549,226 549,226 549,225 549,225 549,224 549,224 549,223 549,223 549,222 549,222 549,221 549,221 549,220 549,220 549,219 549,219 549,218 549,218 549,217 549,217 549,216 549,216 549,215 549,215 549,214 549,214 549,213 549,213 549,212 549,212 549,211 549,211 549,210 549,210 549,209 549,209 549,208 549,208 549,207 549,207 549,206" fill="#f4f000"/>
<polygon points="556.93,206 556.93,207 557.48,207 557.48,208 557.51,208 557.51,209 558.25,209 558.25,210 558,210 558,211 557.96,211 557.96,212 557.79,212 557.79,213 556.95,213 556.95,214 553,214 553,213 553,213 553,212 553,212 553,211 553,211 553,210 553,210 553,209 553,209 553,208 553,208 553,207 553,207 553,206" fill="#ff9800"/>
<rect x="553.5" y="215" width="2.2" height="2" fill="#ff9800"/>
<rect x="553.5" y="219" width="2.2" height="2" fill="#ff9800"/>
<rect x="553.5" y="224" width="2.2" height="2" fill="#ff9800"/>
<rect x="553.5" y="229" width="2.2" height="2" fill="#ff9800"/>
<polygon points="548.99,214 548.99,215 550.07,215 550.07,216 547.77,216 547.77,217 548.64,217 548.64,218 531,218 531,217 531,217 531,216 531,216 531,215 531,215 531,214" fill="#10c832"/>
<polygon points="549.93,220 549.93,221 550.66,221 550.66,222 547.15,222 547.15,223 547.02,223 547.02,224 550.97,224 550.97,225 519,225 519,224 519,224 519,223 519,223 519,222 519,222 519,221 519,221 519,220" fill="#10c832"/>
<path d="M541.4,220.21h1.76M536.46,221.11h1.57M539.98,221.3h1.78M527.63,222.25h1.33M545.01,223.42h1.65M520.94,224.1h1.32" stroke="#fff" stroke-width="0.8" fill="none" opacity="0.9"/>
<path d="M507.36,223h1.55M512.03,224h1.34" stroke="#10c832" stroke-width="1.3" fill="none"/>
<polygon points="547.8,225 547.8,226 547.43,226 547.43,227 547.77,227 547.77,228 550.08,228 550.08,229 549.33,229 549.33,230 549.15,230 549.15,231 547.9,231 547.9,232 518.74,232 518.74,231 520.05,231 520.05,230 520.06,230 520.06,229 521.63,229 521.63,228 518.51,228 518.51,227 518.95,227 518.95,226 516.46,226 516.46,225" fill="#10c832"/>
<path d="M537.5,225.33h1.62M546.1,226.28h0.92M521.66,227h1.32M528.87,228.06h1.66M525.79,229.37h1.33M536.76,230.08h0.9M524.14,231.23h1.9" stroke="#fff" stroke-width="0.8" fill="none" opacity="0.9"/>
<path d="M510.36,226h2.35" stroke="#10c832" stroke-width="1.3" fill="none"/>
<polygon points="550,231 550,232 550.11,232 550.11,233 548.13,233 548.13,234 549.31,234 549.31,235 550.07,235 550.07,236 548.35,236 548.35,237 548.33,237 548.33,238 549.21,238 549.21,239 549.92,239 549.92,240 542.3,240 542.3,239 543.69,239 543.69,238 544.77,238 544.77,237 545.37,237 545.37,236 545.76,236 545.76,235 544.07,235 544.07,234 541.47,234 541.47,233 540.81,233 540.81,232 538.87,232 538.87,231" fill="#10c832"/>
<path d="M547.66,231.33h1.19M548.67,232.46h1.48M546.62,233.15h1.47" stroke="#fff" stroke-width="0.8" fill="none" opacity="0.9"/>
<path d="M530.56,231h1.25M539.62,236h1.54M534.98,239h1.56" stroke="#10c832" stroke-width="1.3" fill="none"/>
<polygon points="547.94,239 547.94,240 548.07,240 548.07,241 550.02,241 550.02,242 527,242 527,241 527,241 527,240 527,240 527,239" fill="#10c832"/>
<path d="M542.97,240.15h1.25M545.12,241.1h1.84" stroke="#fff" stroke-width="0.8" fill="none" opacity="0.9"/>
<path d="M523.32,241h2.06" stroke="#10c832" stroke-width="1.3" fill="none"/>
<polygon points="548.19,241.5 548.19,242.5 549.65,242.5 549.65,243.5 548.46,243.5 548.46,244.5 549.38,244.5 549.38,245.5 547.17,245.5 547.17,246.5 547.07,246.5 547.07,247.5 547.17,247.5 547.17,248.5 548.6,248.5 548.6,249.5 547.02,249.5 547.02,250.5 536.39,250.5 536.39,249.5 524.42,249.5 524.42,248.5 519.23,248.5 519.23,247.5 517.42,247.5 517.42,246.5 518.98,246.5 518.98,245.5 521.13,245.5 521.13,244.5 528.3,244.5 528.3,243.5 535.23,243.5 535.23,242.5 541.07,242.5 541.07,241.5" fill="#10c832"/>
<path d="M540.41,242.99h0.97M531.28,244.63h0.91M523.74,245.53h1.1M528.57,246.59h1.37M533.56,247.86h1.88M531.71,248.88h1.26" stroke="#fff" stroke-width="0.8" fill="none" opacity="0.9"/>
<path d="M532.28,241.5h1.73M531.14,249.5h2.01" stroke="#10c832" stroke-width="1.3" fill="none"/>
<polygon points="547.49,250 547.49,251 549.99,251 549.99,252 549.95,252 549.95,253 549.2,253 549.2,254 549.22,254 549.22,255 548.98,255 548.98,256 549.72,256 549.72,257 548.75,257 548.75,258 550.09,258 550.09,259 550.34,259 550.34,260 548.79,260 548.79,261 550.01,261 550.01,262 550.58,262 550.58,263 550.52,263 550.52,264 549.14,264 549.14,265 549.62,265 549.62,266 549.44,266 549.44,267 550.13,267 550.13,268 549.54,268 549.54,269 548.96,269 548.96,270 548.93,270 548.93,271 550.02,271 550.02,272 550.16,272 550.16,273 549.14,273 549.14,274 548.55,274 548.55,275 549.26,275 549.26,276 549.83,276 549.83,277 548.86,277 548.86,278 550.03,278 550.03,279 548.78,279 548.78,280 548.41,280 548.41,281 544.12,281 544.12,280 544.91,280 544.91,279 544.13,279 544.13,278 543.84,278 543.84,277 544.83,277 544.83,276 543.37,276 543.37,275 543.63,275 543.63,274 544.16,274 544.16,273 543.82,273 543.82,272 541.89,272 541.89,271 543.13,271 543.13,270 542.8,270 542.8,269 542.49,269 542.49,268 543.41,268 543.41,267 542.95,267 542.95,266 543.69,266 543.69,265 541.52,265 541.52,264 541.15,264 541.15,263 540.31,263 540.31,262 541.57,262 541.57,261 539.5,261 539.5,260 540.02,260 540.02,259 541.64,259 541.64,258 541.91,258 541.91,257 541.31,257 541.31,256 543.87,256 543.87,255 543.04,255 543.04,254 543.15,254 543.15,253 540.96,253 540.96,252 540.54,252 540.54,251 541.26,251 541.26,250" fill="#10c832"/>
<polygon points="551.53,262 551.53,263 552.38,263 552.38,264 552.47,264 552.47,265 552.3,265 552.3,266 553.01,266 553.01,267 552.26,267 552.26,268 553.12,268 553.12,269 553.16,269 553.16,270 553.55,270 553.55,271 553.39,271 553.39,272 553.23,272 553.23,273 552.99,273 552.99,274 552.61,274 552.61,275 552.04,275 552.04,276 552.28,276 552.28,277 551.63,277 551.63,278 552.98,278 552.98,279 552.6,279 552.6,280 552.45,280 552.45,281 552.38,281 552.38,282 552.3,282 552.3,283 551.49,283 551.49,284 551.6,284 551.6,285 551.46,285 551.46,286 551.75,286 551.75,287 552.39,287 552.39,288 550.89,288 550.89,289 551.86,289 551.86,290 552.24,290 552.24,291 552.24,291 552.24,292 551.11,292 551.11,293 551.49,293 551.49,294 551.79,294 551.79,295 551.84,295 551.84,296 551.21,296 551.21,297 552.64,297 552.64,298 552.18,298 552.18,299 552.16,299 552.16,300 551.81,300 551.81,301 548.77,301 548.77,300 548.66,300 548.66,299 549.29,299 549.29,298 548.68,298 548.68,297 549.79,297 549.79,296 549.33,296 549.33,295 549.43,295 549.43,294 548.46,294 548.46,293 548.29,293 548.29,292 549.28,292 549.28,291 549.36,291 549.36,290 548.89,290 548.89,289 548.75,289 548.75,288 549.62,288 549.62,287 548.88,287 548.88,286 549.6,286 549.6,285 548.9,285 548.9,284 548.48,284 548.48,283 548.74,283 548.74,282 548.96,282 548.96,281 549.38,281 549.38,280 548.9,280 548.9,279 549.76,279 549.76,278 549.24,278 549.24,277 548.21,277 548.21,276 548.36,276 548.36,275 549.68,275 549.68,274 548.24,274 548.24,273 548.49,273 548.49,272 548.41,272 548.41,271 548.8,271 548.8,270 549.72,270 549.72,269 548.27,269 548.27,268 548.32,268 548.32,267 548.62,267 548.62,266 549.62,266 549.62,265 548.77,265 548.77,264 549.14,264 549.14,263 548.35,263 548.35,262" fill="#f4f000"/>
<polygon points="556.17,276 556.17,277 557.87,277 557.87,278 558.9,278 558.9,279 558.98,279 558.98,280 559.65,280 559.65,281 558.71,281 558.71,282 557.98,282 557.98,283 556.93,283 556.93,284 557.53,284 557.53,285 558.61,285 558.61,286 558.34,286 558.34,287 558.99,287 558.99,288 559.2,288 559.2,289 559.69,289 559.69,290 559.13,290 559.13,291 558.05,291 558.05,292 557.75,292 557.75,293 558.91,293 558.91,294 558.03,294 558.03,295 559.61,295 559.61,296 558.78,296 558.78,297 557.64,297 557.64,298 557.37,298 557.37,299 557.41,299 557.41,300 556.64,300 556.64,301 552.54,301 552.54,300 552.38,300 552.38,299 552.93,299 552.93,298 553.88,298 553.88,297 552.7,297 552.7,296 552.79,296 552.79,295 553.09,295 553.09,294 553.35,294 553.35,293 554.61,293 554.61,292 553.52,292 553.52,291 553.53,291 553.53,290 554.32,290 554.32,289 553.97,289 553.97,288 554.5,288 554.5,287 553.27,287 553.27,286 553.65,286 553.65,285 553.01,285 553.01,284 554.43,284 554.43,283 554.93,283 554.93,282 553.57,282 553.57,281 553.15,281 553.15,280 553.43,280 553.43,279 554.02,279 554.02,278 552.49,278 552.49,277 552.34,277 552.34,276" fill="#ff9800"/>
<polygon points="548.84,280 548.84,281 549.12,281 549.12,282 549.6,282 549.6,283 549.35,283 549.35,284 549.14,284 549.14,285 549.68,285 549.68,286 549.15,286 549.15,287 548.12,287 548.12,288 549.28,288 549.28,289 548.33,289 548.33,290 549.21,290 549.21,291 548.82,291 548.82,292 549.56,292 549.56,293 549.35,293 549.35,294 549.58,294 549.58,295 548.72,295 548.72,296 549.82,296 549.82,297 548.44,297 548.44,298 548.46,298 548.46,299 548.96,299 548.96,300 549.31,300 549.31,301 545.57,301 545.57,300 544.96,300 544.96,299 546.12,299 546.12,298 545.21,298 545.21,297 546.18,297 546.18,296 544.82,296 544.82,295 544.84,295 544.84,294 546.55,294 546.55,293 546.03,293 546.03,292 546.04,292 546.04,291 544.81,291 544.81,290 545.61,290 545.61,289 545.67,289 545.67,288 546.07,288 546.07,287 545.56,287 545.56,286 546.24,286 546.24,285 545.14,285 545.14,284 545.77,284 545.77,283 546.03,283 546.03,282 545.23,282 545.23,281 545.13,281 545.13,280" fill="#10c832"/>
<polygon points="552.66,298 552.66,299 551.86,299 551.86,300 550.88,300 550.88,301 550.73,301 550.73,302 550.46,302 550.46,303 550.84,303 550.84,304 550.69,304 550.69,305 550.9,305 550.9,306 550.43,306 550.43,307 546.24,307 546.24,306 546.5,306 546.5,305 546.29,305 546.29,304 546.14,304 546.14,303 546.25,303 546.25,302 546.65,302 546.65,301 547.27,301 547.27,300 547.52,300 547.52,299 547.99,299 547.99,298" fill="#f4f000"/>
<polygon points="549.14,304 549.14,305 547.59,305 547.59,306 546.05,306 546.05,307 548.11,307 548.11,308 547,308 547,309 543.31,309 543.31,310 543.31,310 543.31,311 542.11,311 542.11,312 541.51,312 541.51,313 539.65,313 539.65,314 537.48,314 537.48,315 537.75,315 537.75,316 536.57,316 536.57,317 533.73,317 533.73,318 534.86,318 534.86,319 533.14,319 533.14,320 531.33,320 531.33,321 529.87,321 529.87,322 529.72,322 529.72,323 530.95,323 530.95,324 529.84,324 529.84,325 528.84,325 528.84,326 524.55,326 524.55,327 524.68,327 524.68,328 521.82,328 521.82,329 522.41,329 522.41,330 520.79,330 520.79,331 519.71,331 519.71,332 516.89,332 516.89,333 515.61,333 515.61,334 516.37,334 516.37,335 514,335 514,336 514.53,336 514.53,337 514.26,337 514.26,338 506.98,338 506.98,337 507.95,337 507.95,336 508.41,336 508.41,335 511.84,335 511.84,334 512.01,334 512.01,333 513.93,333 513.93,332 514.75,332 514.75,331 514.12,331 514.12,330 518.14,330 518.14,329 518.66,329 518.66,328 520.18,328 520.18,327 522.35,327 522.35,326 523.66,326 523.66,325 523.91,325 523.91,324 523.75,324 523.75,323 524.51,323 524.51,322 526.1,322 526.1,321 528.1,321 528.1,320 528.57,320 528.57,319 528.05,319 528.05,318 528.87,318 528.87,317 529.33,317 529.33,316 530.15,316 530.15,315 530.4,315 530.4,314 532.68,314 532.68,313 531.64,313 531.64,312 535.14,312 535.14,311 536.88,311 536.88,310 535.29,310 535.29,309 539.38,309 539.38,308 539.54,308 539.54,307 541.49,307 541.49,306 543.04,306 543.04,305 543.87,305 543.87,304" fill="#10c832"/>
<path d="M509.5,42.1v-1.8M509.5,362.1v1.8M524.4,42.1v-1.8M524.4,362.1v1.8M539.2,42.1v-1.8M539.2,362.1v1.8M554.1,42.1v-1.8M554.1,362.1v1.8M568.8,42.1v-1.8M568.8,362.1v1.8M495.3,361.71h-1.5M577,361.71h1.5M495.3,354.61h-1.5M577,354.61h1.5M495.3,347.5h-2.4M577,347.5h2.4M495.3,340.4h-1.5M577,340.4h1.5M495.3,333.29h-1.5M577,333.29h1.5M495.3,326.19h-1.5M577,326.19h1.5M495.3,319.08h-2.4M577,319.08h2.4M495.3,311.98h-1.5M577,311.98h1.5M495.3,304.87h-1.5M577,304.87h1.5M495.3,297.76h-1.5M577,297.76h1.5M495.3,290.66h-2.4M577,290.66h2.4M495.3,283.56h-1.5M577,283.56h1.5M495.3,276.45h-1.5M577,276.45h1.5M495.3,269.35h-1.5M577,269.35h1.5M495.3,262.24h-2.4M577,262.24h2.4M495.3,255.13h-1.5M577,255.13h1.5M495.3,248.03h-1.5M577,248.03h1.5M495.3,240.93h-1.5M577,240.93h1.5M495.3,233.82h-2.4M577,233.82h2.4M495.3,226.72h-1.5M577,226.72h1.5M495.3,219.61h-1.5M577,219.61h1.5M495.3,212.5h-1.5M577,212.5h1.5M495.3,205.4h-2.4M577,205.4h2.4M495.3,198.3h-1.5M577,198.3h1.5M495.3,191.19h-1.5M577,191.19h1.5M495.3,184.09h-1.5M577,184.09h1.5M495.3,176.98h-2.4M577,176.98h2.4M495.3,169.88h-1.5M577,169.88h1.5M495.3,162.77h-1.5M577,162.77h1.5M495.3,155.67h-1.5M577,155.67h1.5M495.3,148.56h-2.4M577,148.56h2.4M495.3,141.45h-1.5M577,141.45h1.5M495.3,134.35h-1.5M577,134.35h1.5M495.3,127.25h-1.5M577,127.25h1.5M495.3,120.14h-2.4M577,120.14h2.4M495.3,113.03h-1.5M577,113.03h1.5M495.3,105.93h-1.5M577,105.93h1.5M495.3,98.83h-1.5M577,98.83h1.5M495.3,91.72h-2.4M577,91.72h2.4M495.3,84.61h-1.5M577,84.61h1.5M495.3,77.51h-1.5M577,77.51h1.5M495.3,70.41h-1.5M577,70.41h1.5M495.3,63.3h-2.4M577,63.3h2.4M495.3,56.19h-1.5M577,56.19h1.5M495.3,49.09h-1.5M577,49.09h1.5" stroke="#555" stroke-width="0.7" fill="none"/>
<path d="M495.3,42.1H577V362.1" stroke="#8a8a8a" stroke-width="1" fill="none"/>
<path d="M577,362.1H495.3V42.1" stroke="#3a3a3a" stroke-width="0.9" fill="none"/>
<text x="489.3" y="351.1" font-size="8.6" text-anchor="end" fill="#222">24</text>
<text x="489.3" y="322.68" font-size="8.6" text-anchor="end" fill="#222">26</text>
<text x="489.3" y="294.26" font-size="8.6" text-anchor="end" fill="#222">28</text>
<text x="489.3" y="265.84" font-size="8.6" text-anchor="end" fill="#222">30</text>
<text x="489.3" y="237.42" font-size="8.6" text-anchor="end" fill="#222">32</text>
<text x="489.3" y="209" font-size="8.6" text-anchor="end" fill="#222">34</text>
<text x="489.3" y="180.58" font-size="8.6" text-anchor="end" fill="#222">36</text>
<text x="489.3" y="152.16" font-size="8.6" text-anchor="end" fill="#222">38</text>
<text x="489.3" y="123.74" font-size="8.6" text-anchor="end" fill="#222">40</text>
<text x="489.3" y="95.32" font-size="8.6" text-anchor="end" fill="#222">42</text>
<text x="489.3" y="66.9" font-size="8.6" text-anchor="end" fill="#222">44</text>
<text x="537.4" y="377.8" font-size="8.8" text-anchor="middle" fill="#000">10</text><text x="543.9" y="373.4" font-size="6.2" text-anchor="middle" fill="#000">0</text>
<rect x="510.3" y="348.2" width="63.400000000000034" height="11.400000000000034" fill="#fff" stroke="#8a8a8a" stroke-width="0.9"/>
<rect x="516.4" y="352.90000000000003" width="1.8" height="1.8" fill="#00c832"/>
<text x="524.2" y="355.9" font-size="8.8" font-style="italic" fill="#111">F</text><text x="528.4" y="357.29999999999995" font-size="6.2" fill="#111" textLength="11.6" lengthAdjust="spacing">max</text><text x="542.2" y="355.9" font-size="8.8" fill="#111" textLength="29.8" lengthAdjust="spacingAndGlyphs">(KN/m)</text>
<path d="M607.19,43.3V354.2M613.98,43.3V354.2M620.77,43.3V354.2M634.36,43.3V354.2M641.15,43.3V354.2M647.94,43.3V354.2M661.52,43.3V354.2M668.32,43.3V354.2M675.11,43.3V354.2M600.4,347.44H681.9M600.4,333.65H681.9M600.4,326.76H681.9M600.4,319.87H681.9M600.4,306.07H681.9M600.4,299.18H681.9M600.4,292.28H681.9M600.4,278.5H681.9M600.4,271.6H681.9M600.4,264.7H681.9M600.4,250.91H681.9M600.4,244.02H681.9M600.4,237.12H681.9M600.4,223.33H681.9M600.4,216.44H681.9M600.4,209.54H681.9M600.4,195.75H681.9M600.4,188.86H681.9M600.4,181.96H681.9M600.4,168.18H681.9M600.4,161.28H681.9M600.4,154.38H681.9M600.4,140.59H681.9M600.4,133.7H681.9M600.4,126.8H681.9M600.4,113.02H681.9M600.4,106.12H681.9M600.4,99.22H681.9M600.4,85.44H681.9M600.4,78.54H681.9M600.4,71.64H681.9M600.4,57.86H681.9M600.4,50.96H681.9M600.4,44.06H681.9" stroke="#d4d4d4" stroke-width="0.6" stroke-dasharray="1.6,1.2" fill="none"/>
<path d="M627.57,43.3V354.2M654.73,43.3V354.2M600.4,340.55H681.9M600.4,312.97H681.9M600.4,285.39H681.9M600.4,257.81H681.9M600.4,230.23H681.9M600.4,202.65H681.9M600.4,175.07H681.9M600.4,147.49H681.9M600.4,119.91H681.9M600.4,92.33H681.9M600.4,64.75H681.9" stroke="#d8d8d8" stroke-width="0.7" fill="none"/>
<polygon points="680.26,56 680.26,57 681.57,57 681.57,58 680.06,58 680.06,59 679.34,59 679.34,60 679.66,60 679.66,61 679.5,61 679.5,62 679.13,62 679.13,63 678.91,63 678.91,64 679.52,64 679.52,65 679.12,65 679.12,66 679.09,66 679.09,67 679.04,67 679.04,68 677.87,68 677.87,69 679.56,69 679.56,70 680.06,70 680.06,71 678.31,71 678.31,72 678.39,72 678.39,73 677.12,73 677.12,74 678.81,74 678.81,75 677.17,75 677.17,76 677.13,76 677.13,77 677.59,77 677.59,78 677.68,78 677.68,79 677.74,79 677.74,80 679.76,80 679.76,81 679.68,81 679.68,82 679.35,82 679.35,83 678.91,83 678.91,84 680.29,84 680.29,85 678.26,85 678.26,86 678.5,86 678.5,87 681.26,87 681.26,88 680.75,88 680.75,89 680.16,89 680.16,90 680.32,90 680.32,91 678.02,91 678.02,92 679.94,92 679.94,93 674.76,93 674.76,92 672.87,92 672.87,91 674.74,91 674.74,90 674.58,90 674.58,89 672.38,89 672.38,88 674.7,88 674.7,87 672.91,87 672.91,86 672.14,86 672.14,85 674.14,85 674.14,84 674.81,84 674.81,83 674.9,83 674.9,82 673.7,82 673.7,81 673.41,81 673.41,80 674.52,80 674.52,79 672.61,79 672.61,78 672.34,78 672.34,77 673.86,77 673.86,76 674.14,76 674.14,75 672.82,75 672.82,74 673.03,74 673.03,73 673.51,73 673.51,72 672.55,72 672.55,71 671.9,71 671.9,70 672.21,70 672.21,69 672.15,69 672.15,68 669.93,68 669.93,67 669.07,67 669.07,66 669.81,66 669.81,65 668.66,65 668.66,64 668.99,64 668.99,63 666.52,63 666.52,62 669.33,62 669.33,61 668.77,61 668.77,60 667.58,60 667.58,59 669.32,59 669.32,58 672.16,58 672.16,57 671.82,57 671.82,56" fill="#ff9800"/>
<path d="M679.26,56.18h1.01M679,56.31h0.98M678.52,57.43h1.06M674.03,57.42h1.12M677.78,57.26h1.76M673.01,58.16h2M675.71,58.18h0.83M676.42,59.1h1.04M668.83,59.49h1.6M671.35,59.43h0.98M674.88,60.23h1.48M672.7,60.23h1.02M670.51,61.37h1.24M672.84,61.27h1.13M671.75,62.4h1.36M672.59,62.17h0.95M676.49,62.46h1.41M674.01,63.1h1.26M672.32,63.18h1.52M672.76,64.48h1.95M672.04,64.41h1.39M675.09,65.31h1.72M671.48,65.03h0.85M672.84,66.03h1.8M675.78,66.29h1.18M671.03,67.18h1.4M673.71,67.43h0.93M675.03,68.43h1.87M677.8,69.44h1.49M676.43,69.03h1.83M676.36,70.02h1.97M678.56,70.05h1.52M676.59,71.43h1.3M677.11,71.22h1.59M676.32,72.12h1.03M675.72,73.21h1.13M673.99,74.45h1.53M675.54,75.18h0.95M674.09,77.05h1.61M675.4,78.43h1.26M676.8,80.08h1.41M675.4,81.14h1.76M677.08,82.46h1.01M677.89,84.42h1.07M676.63,85.2h1.33M676.63,86.23h1.59M679.36,87.45h0.86M678.38,88.02h1.32M674.37,88.03h0.85M675.76,89.43h1.05M676.58,90.06h1.13M676.83,91.06h1.64M676.26,92.38h1.69" stroke="#fff" stroke-width="0.8" fill="none" opacity="0.9"/>
<rect x="680" y="56" width="2.2" height="2.4" fill="#f4f000"/><rect x="679.8" y="64" width="1.8" height="2" fill="#f4f000"/>
<polyline points="670,91 665,92" fill="none" stroke="#ff9800" stroke-width="1.6" stroke-linejoin="round" stroke-linecap="round"/>
<rect x="662" y="92.3" width="3" height="1.8" fill="#ff9800"/>
<polygon points="664.94,95.5 664.94,96.5 666.88,96.5 666.88,97.5 668.42,97.5 668.42,98.5 667.05,98.5 667.05,99.5 664.41,99.5 664.41,100.5 665.7,100.5 665.7,101.5 666.04,101.5 666.04,102.5 656.31,102.5 656.31,101.5 655.44,101.5 655.44,100.5 655.26,100.5 655.26,99.5 655.15,99.5 655.15,98.5 654.39,98.5 654.39,97.5 655.15,97.5 655.15,96.5 654.65,96.5 654.65,95.5" fill="#ff9800"/>
<path d="M656.74,95.84h1.87M662.06,95.71h0.99M662.19,95.64h1.61M662.21,96.73h1.16M661,96.95h1.76M664.33,96.63h0.94M664.94,97.6h0.94M655.81,97.81h1.15M663.07,97.6h1.42M660.42,97.93h1.49M661.15,98.77h0.81M657.1,98.9h0.99M661.17,98.52h0.95M658.78,99.95h1.74M657.3,99.53h1.66M663.89,100.9h1.22M663.18,100.76h1.14M659.87,101.63h1.63M660.14,102h1.13" stroke="#fff" stroke-width="0.8" fill="none" opacity="0.9"/>
<polygon points="655.26,95.5 655.26,96.5 654.74,96.5 654.74,97.5 653.73,97.5 653.73,98.5 654.51,98.5 654.51,99.5 654.06,99.5 654.06,100.5 655.04,100.5 655.04,101.5 640.24,101.5 640.24,100.5 642.18,100.5 642.18,99.5 641.04,99.5 641.04,98.5 641.36,98.5 641.36,97.5 643.74,97.5 643.74,96.5 644.91,96.5 644.91,95.5" fill="#ff0a0a"/>
<rect x="651" y="92.2" width="1.8" height="1.8" fill="#ff0a0a"/>
<polyline points="641,101 639,103 638.5,105.2 639.1,109.2 642.4,111.8 649,112.5 655,112.5" fill="none" stroke="#ff0a0a" stroke-width="2.0" stroke-linejoin="round" stroke-linecap="round"/>
<polygon points="653.55,111.5 653.55,112.5 653.45,112.5 653.45,113.5 653.28,113.5 653.28,114.5 652.67,114.5 652.67,115.5 646,115.5 646,114.5 646,114.5 646,113.5 646,113.5 646,112.5 646,112.5 646,111.5" fill="#ff0a0a"/>
<rect x="655.5" y="111.5" width="2" height="2" fill="#ff9800"/>
<polyline points="647,115 645,118.4 643,123.7 641,127.6 639.8,131.6 639.1,135.5 637.2,138.8 636,140 633.4,145.3 631.4,149.2 632.7,151.9 632,155.2 633.4,158.5 638,160.5 636,163 633.4,166.4 628.8,170.4" fill="none" stroke="#ff0a0a" stroke-width="2.0" stroke-linejoin="round" stroke-linecap="round"/>
<rect x="642.2" y="133.6" width="1.8" height="1.8" fill="#ff0a0a"/>
<polyline points="628.8,170.4 622.2,175.6 618.2,179.6 612.9,184.9 611,186.2" fill="none" stroke="#9a20ff" stroke-width="2.2" stroke-linejoin="round" stroke-linecap="round"/>
<polyline points="611,186.2 614,190 618,194 621,195.5 627,195.8" fill="none" stroke="#9a20ff" stroke-width="2.0" stroke-linejoin="round" stroke-linecap="round"/>
<polyline points="612,186 618,185.5 622,184.5 627,184" fill="none" stroke="#9a20ff" stroke-width="1.3" stroke-linejoin="round" stroke-linecap="round"/>
<line x1="616" y1="181.5" x2="627" y2="181.5" stroke="#9a20ff" stroke-width="1.2" stroke-dasharray="1.5,1.2"/>
<line x1="614" y1="188.5" x2="627" y2="188.5" stroke="#9a20ff" stroke-width="1.2" stroke-dasharray="1.6,1"/>
<line x1="617" y1="191.5" x2="627" y2="191.5" stroke="#9a20ff" stroke-width="1.2" stroke-dasharray="1.4,1.4"/>
<polyline points="626,176 627,196" fill="none" stroke="#9a20ff" stroke-width="1.3" stroke-linejoin="round" stroke-linecap="round"/>
<polyline points="623,207 628,202.4" fill="none" stroke="#9a20ff" stroke-width="2.0" stroke-linejoin="round" stroke-linecap="round"/>
<line x1="627.4" y1="178.5" x2="650.5" y2="178.5" stroke="#ff0a0a" stroke-width="1.1" stroke-dasharray="1.6,1.4"/>
<rect x="651.7" y="177.7" width="1.6" height="1.6" fill="#ff9800"/>
<rect x="655.0" y="177.7" width="1.6" height="1.6" fill="#ff9800"/>
<rect x="660.9000000000001" y="177.7" width="1.6" height="1.6" fill="#ff9800"/>
<line x1="627" y1="183.6" x2="652.5" y2="183.6" stroke="#ff0a0a" stroke-width="1.1" stroke-dasharray="2,1.2"/>
<line x1="628" y1="185.2" x2="652" y2="185.2" stroke="#ff0a0a" stroke-width="1.1" stroke-dasharray="1.6,1.4"/>
<line x1="627" y1="186.8" x2="650" y2="186.8" stroke="#ff0a0a" stroke-width="1.1" stroke-dasharray="2.2,1"/>
<line x1="655.1" y1="185.8" x2="665.7" y2="185.8" stroke="#ff9800" stroke-width="1.2" stroke-dasharray="2,1"/>
<line x1="628" y1="190.5" x2="648" y2="190.5" stroke="#ff0a0a" stroke-width="1.1" stroke-dasharray="1.8,1.2"/>
<line x1="628" y1="192.8" x2="648" y2="192.8" stroke="#ff0a0a" stroke-width="1.1" stroke-dasharray="1.6,1.6"/>
<polyline points="628,193.2 628.8,198.5 628,203 631.4,203.8 636.7,205.7 638.6,209 638,212.3 633.4,215 632,217 634.7,219 638.6,221 642,223.5 643,230" fill="none" stroke="#ff0a0a" stroke-width="2.6" stroke-linejoin="round" stroke-linecap="round"/>
<line x1="636.7" y1="219.5" x2="653.8" y2="219.5" stroke="#ff0a0a" stroke-width="1.3" stroke-dasharray="3,0.6"/>
<line x1="638.6" y1="223.5" x2="655.1" y2="223.5" stroke="#ff0a0a" stroke-width="1.4"/>
<line x1="655.1" y1="223.5" x2="660.4" y2="223.5" stroke="#ff9800" stroke-width="1.3" stroke-dasharray="2,1"/>
<line x1="640" y1="226" x2="654.3" y2="226" stroke="#ff0a0a" stroke-width="1.4"/>
<line x1="654.3" y1="226" x2="660.8" y2="226" stroke="#ff9800" stroke-width="1.3" stroke-dasharray="2,1"/>
<line x1="640" y1="228.5" x2="654" y2="228.5" stroke="#ff0a0a" stroke-width="1.3" stroke-dasharray="3,0.6"/>
<line x1="654" y1="228.5" x2="659" y2="228.5" stroke="#ff9800" stroke-width="1.2" stroke-dasharray="1.5,1"/>
<line x1="640" y1="230.5" x2="654" y2="230.5" stroke="#ff0a0a" stroke-width="1.2" stroke-dasharray="2.5,1"/>
<polygon points="645.49,224 645.49,225 647.39,225 647.39,226 646.87,226 646.87,227 646.63,227 646.63,228 648.31,228 648.31,229 648.44,229 648.44,230 649.51,230 649.51,231 648.78,231 648.78,232 649.78,232 649.78,233 650.07,233 650.07,234 649.34,234 649.34,235 648.92,235 648.92,236 648.91,236 648.91,237 649.09,237 649.09,238 650.31,238 650.31,239 649.83,239 649.83,240 649.18,240 649.18,241 650.16,241 650.16,242 650.06,242 650.06,243 650.06,243 650.06,244 649.07,244 649.07,245 649.82,245 649.82,246 645.57,246 645.57,245 645.08,245 645.08,244 644.49,244 644.49,243 645.62,243 645.62,242 645.47,242 645.47,241 644.33,241 644.33,240 644.48,240 644.48,239 644.09,239 644.09,238 644.41,238 644.41,237 644.06,237 644.06,236 644.45,236 644.45,235 643.56,235 643.56,234 643.63,234 643.63,233 645.14,233 645.14,232 643.14,232 643.14,231 642.79,231 642.79,230 643.11,230 643.11,229 641.65,229 641.65,228 642.61,228 642.61,227 640.69,227 640.69,226 640.85,226 640.85,225 640.16,225 640.16,224" fill="#ff0a0a"/>
<line x1="651.6" y1="236.5" x2="654.9" y2="236.5" stroke="#ff0a0a" stroke-width="1.3"/>
<line x1="648.3" y1="242" x2="653.5" y2="242" stroke="#ff0a0a" stroke-width="1.3"/>
<polyline points="648.3,246.1 645.6,250 643,255.4 640.4,262 638.4,267.2 636.4,275 635.6,276.3 633.2,279.5 634,284.3 632.4,290.6 630,297 628.5,302.5 630,308 632.4,314.3 635.6,316.7 640.3,319.1 644.3,323 648.3,326.2 653,326.5" fill="none" stroke="#ff0a0a" stroke-width="2.4" stroke-linejoin="round" stroke-linecap="round"/>
<polyline points="631.5,279 634.5,279.5" fill="none" stroke="#ff0a0a" stroke-width="1.6" stroke-linejoin="round" stroke-linecap="round"/>
<line x1="634" y1="288.5" x2="640.3" y2="288.5" stroke="#ff0a0a" stroke-width="1.3" stroke-dasharray="3,1"/>
<line x1="633.2" y1="297.5" x2="640.3" y2="297.5" stroke="#ff0a0a" stroke-width="1.3" stroke-dasharray="3,1"/>
<rect x="634.0" y="306.2" width="1.7" height="1.6" fill="#ff0a0a"/>
<rect x="639.5" y="306.2" width="1.7" height="1.6" fill="#ff0a0a"/>
<rect x="644.2" y="306.2" width="1.7" height="1.6" fill="#ff0a0a"/>
<rect x="651.4000000000001" y="306.2" width="1.7" height="1.6" fill="#ff0a0a"/>
<rect x="634.8000000000001" y="311.7" width="1.7" height="1.6" fill="#ff0a0a"/>
<rect x="641.2" y="311.7" width="1.7" height="1.6" fill="#ff0a0a"/>
<rect x="643.5" y="311.7" width="1.7" height="1.6" fill="#ff0a0a"/>
<rect x="646.7" y="311.7" width="1.7" height="1.6" fill="#ff0a0a"/>
<line x1="655.4" y1="327" x2="660.1" y2="327" stroke="#ff9800" stroke-width="1.3" stroke-dasharray="2,0.8"/>
<line x1="664" y1="328.2" x2="678.4" y2="328.2" stroke="#ff9800" stroke-width="1.3" stroke-dasharray="2.5,1"/>
<path d="M600.4,43.3v-3.2M600.4,354.2v3.2M607.19,43.3v-1.8M607.19,354.2v1.8M613.98,43.3v-1.8M613.98,354.2v1.8M620.77,43.3v-1.8M620.77,354.2v1.8M627.57,43.3v-3.2M627.57,354.2v3.2M634.36,43.3v-1.8M634.36,354.2v1.8M641.15,43.3v-1.8M641.15,354.2v1.8M647.94,43.3v-1.8M647.94,354.2v1.8M654.73,43.3v-3.2M654.73,354.2v3.2M661.52,43.3v-1.8M661.52,354.2v1.8M668.32,43.3v-1.8M668.32,354.2v1.8M675.11,43.3v-1.8M675.11,354.2v1.8M681.9,43.3v-3.2M681.9,354.2v3.2M600.4,347.44h-1.5M681.9,347.44h1.5M600.4,340.55h-2.4M681.9,340.55h2.4M600.4,333.65h-1.5M681.9,333.65h1.5M600.4,326.76h-1.5M681.9,326.76h1.5M600.4,319.87h-1.5M681.9,319.87h1.5M600.4,312.97h-2.4M681.9,312.97h2.4M600.4,306.07h-1.5M681.9,306.07h1.5M600.4,299.18h-1.5M681.9,299.18h1.5M600.4,292.28h-1.5M681.9,292.28h1.5M600.4,285.39h-2.4M681.9,285.39h2.4M600.4,278.5h-1.5M681.9,278.5h1.5M600.4,271.6h-1.5M681.9,271.6h1.5M600.4,264.7h-1.5M681.9,264.7h1.5M600.4,257.81h-2.4M681.9,257.81h2.4M600.4,250.91h-1.5M681.9,250.91h1.5M600.4,244.02h-1.5M681.9,244.02h1.5M600.4,237.12h-1.5M681.9,237.12h1.5M600.4,230.23h-2.4M681.9,230.23h2.4M600.4,223.33h-1.5M681.9,223.33h1.5M600.4,216.44h-1.5M681.9,216.44h1.5M600.4,209.54h-1.5M681.9,209.54h1.5M600.4,202.65h-2.4M681.9,202.65h2.4M600.4,195.75h-1.5M681.9,195.75h1.5M600.4,188.86h-1.5M681.9,188.86h1.5M600.4,181.96h-1.5M681.9,181.96h1.5M600.4,175.07h-2.4M681.9,175.07h2.4M600.4,168.18h-1.5M681.9,168.18h1.5M600.4,161.28h-1.5M681.9,161.28h1.5M600.4,154.38h-1.5M681.9,154.38h1.5M600.4,147.49h-2.4M681.9,147.49h2.4M600.4,140.59h-1.5M681.9,140.59h1.5M600.4,133.7h-1.5M681.9,133.7h1.5M600.4,126.8h-1.5M681.9,126.8h1.5M600.4,119.91h-2.4M681.9,119.91h2.4M600.4,113.02h-1.5M681.9,113.02h1.5M600.4,106.12h-1.5M681.9,106.12h1.5M600.4,99.22h-1.5M681.9,99.22h1.5M600.4,92.33h-2.4M681.9,92.33h2.4M600.4,85.44h-1.5M681.9,85.44h1.5M600.4,78.54h-1.5M681.9,78.54h1.5M600.4,71.64h-1.5M681.9,71.64h1.5M600.4,64.75h-2.4M681.9,64.75h2.4M600.4,57.86h-1.5M681.9,57.86h1.5M600.4,50.96h-1.5M681.9,50.96h1.5M600.4,44.06h-1.5M681.9,44.06h1.5" stroke="#555" stroke-width="0.7" fill="none"/>
<path d="M600.4,43.3H681.9V354.2" stroke="#8a8a8a" stroke-width="1" fill="none"/>
<path d="M681.9,354.2H600.4V43.3" stroke="#3a3a3a" stroke-width="0.9" fill="none"/>
<text x="594.4" y="344.15" font-size="8.6" text-anchor="end" fill="#333">24</text>
<text x="594.4" y="316.57" font-size="8.6" text-anchor="end" fill="#333">26</text>
<text x="594.4" y="288.99" font-size="8.6" text-anchor="end" fill="#333">28</text>
<text x="594.4" y="261.41" font-size="8.6" text-anchor="end" fill="#333">30</text>
<text x="594.4" y="233.83" font-size="8.6" text-anchor="end" fill="#333">32</text>
<text x="594.4" y="206.25" font-size="8.6" text-anchor="end" fill="#333">34</text>
<text x="594.4" y="178.67" font-size="8.6" text-anchor="end" fill="#333">36</text>
<text x="594.4" y="151.09" font-size="8.6" text-anchor="end" fill="#333">38</text>
<text x="594.4" y="123.51" font-size="8.6" text-anchor="end" fill="#333">40</text>
<text x="594.4" y="95.93" font-size="8.6" text-anchor="end" fill="#333">42</text>
<text x="594.4" y="68.35" font-size="8.6" text-anchor="end" fill="#333">44</text>
<text x="600.4" y="368.6" font-size="8.8" text-anchor="middle" fill="#000">0</text>
<text x="627.57" y="368.6" font-size="8.8" text-anchor="middle" fill="#000">2</text>
<text x="654.73" y="368.6" font-size="8.8" text-anchor="middle" fill="#000">4</text>
<text x="681.9" y="368.6" font-size="8.8" text-anchor="middle" fill="#000">6</text>
<rect x="643.2" y="340.4" width="35.59999999999991" height="11.200000000000045" fill="#fff" stroke="#8a8a8a" stroke-width="0.9"/>
<rect x="650.0" y="345.1" width="1.8" height="1.8" fill="#00c832"/>
<text x="657.0" y="348.7" font-size="8.8" font-style="italic" fill="#111">t</text><text x="660.0" y="350.09999999999997" font-size="6.2" fill="#111">a</text><text x="666.7" y="348.7" font-size="8.8" fill="#111" textLength="10.1" lengthAdjust="spacingAndGlyphs">(h)</text>
</svg></body></html>
